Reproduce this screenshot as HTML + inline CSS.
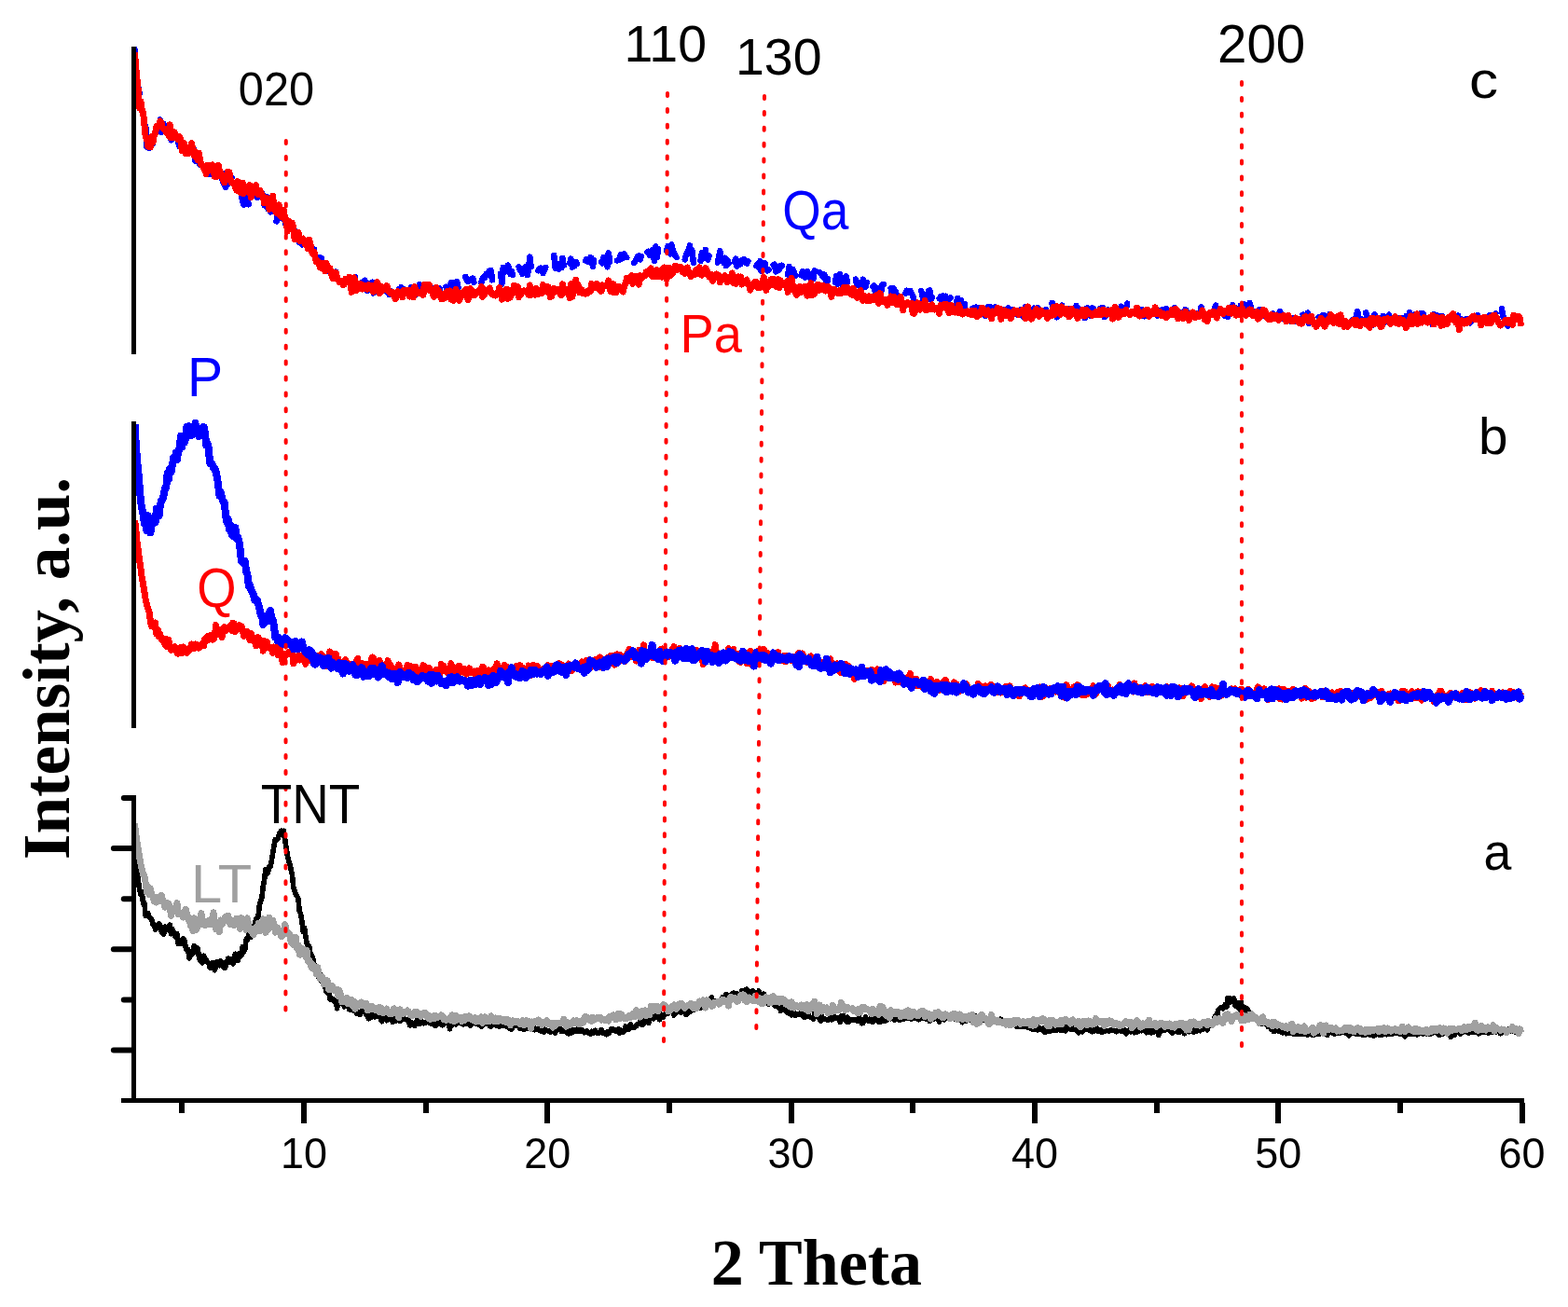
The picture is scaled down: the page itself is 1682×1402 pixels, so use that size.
<!DOCTYPE html>
<html lang="en">
<head>
<meta charset="utf-8">
<title>XRD patterns</title>
<style>
html,body{margin:0;padding:0;background:#fff;}
body{width:1682px;height:1402px;overflow:hidden;}
svg{display:block;}
.sans{font-family:"Liberation Sans",sans-serif;}
.serif{font-family:"Liberation Serif",serif;font-weight:bold;}
.crv{fill:none;stroke-linejoin:round;stroke-linecap:butt;}
.dash{fill:none;stroke-linejoin:round;stroke-linecap:round;}
</style>
</head>
<body>
<svg width="1682" height="1402" viewBox="0 0 1682 1402" role="img" aria-label="XRD patterns: intensity versus 2 theta">
<rect width="1682" height="1402" fill="#fff"/>

<!-- panel c -->
<g id="panel-c" shape-rendering="crispEdges">
<g class="dash" stroke="#0000ff" stroke-width="6.5">
<polyline points="144.5,52.9 145.8,72.2 147.1,85.5 148.4,93.6 149.7,100.5"/>
<polyline points="154.9,141.6 156.2,135.0 157.5,157.4 158.8,152.9 160.1,158.8 161.4,154.1 162.7,151.4 164.0,154.2"/>
<polyline points="171.8,128.5 173.1,141.9 174.4,138.7 175.7,133.1 177.0,138.9 178.3,141.1 179.6,138.1 180.9,137.1 182.2,145.3 183.5,150.3"/>
<polyline points="190.0,147.3 191.3,152.6 192.6,157.2 193.9,153.8 195.2,152.9 196.5,158.8 197.8,157.3 199.1,160.7"/>
<polyline points="206.9,164.6 208.2,159.9 209.5,172.7 210.8,172.4 212.1,173.2 213.4,173.1 214.7,176.9"/>
<polyline points="223.8,186.8 225.1,181.4 226.4,183.9 227.7,187.0 229.0,182.5 230.3,189.7 231.6,187.2"/>
<polyline points="238.1,191.0 239.4,195.4 240.7,198.6 242.0,200.8 243.3,185.1 244.6,197.5 245.9,196.1 247.2,193.8 248.5,190.9"/>
<polyline points="256.3,202.5 257.6,198.6 258.9,208.1 260.2,216.4 261.5,219.6 262.8,202.1 264.1,207.7 265.4,214.7 266.7,219.3"/>
<polyline points="275.8,211.9 277.1,210.9 278.4,208.8 279.7,209.5 281.0,206.7 282.3,211.7 283.6,220.3 284.9,215.5 286.2,211.2 287.5,223.9 288.8,220.3 290.1,227.4"/>
<polyline points="296.6,237.4 297.9,225.6 299.2,227.8 300.5,234.2 301.8,230.0 303.1,234.1 304.4,234.6 305.7,237.6 307.0,242.9 308.3,240.6"/>
<polyline points="316.1,254.1 317.4,248.4 318.7,253.1 320.0,254.2 321.3,260.1 322.6,260.6 323.9,262.3 325.2,258.7"/>
<polyline points="330.4,263.2 331.7,265.8 333.0,268.0 334.3,270.6 335.6,270.8 336.9,267.4 338.2,276.5 339.5,278.7 340.8,282.2 342.1,280.3 343.4,276.1 344.7,277.0"/>
<polyline points="351.2,286.4 352.5,291.3 353.8,291.9 355.1,293.5 356.4,295.6 357.7,296.2 359.0,296.9 360.3,291.5"/>
<polyline points="369.4,301.2 370.7,301.9 372.0,301.7 373.3,300.7 374.6,303.0 375.9,303.1 377.2,306.4 378.5,304.1 379.8,304.3 381.1,297.4"/>
<polyline points="387.6,303.2 388.9,305.4 390.2,302.1 391.5,300.9 392.8,303.1 394.1,311.7 395.4,308.3 396.7,304.3 398.0,307.9 399.3,302.7 400.6,314.4"/>
<polyline points="405.8,304.5 407.1,310.0 408.4,312.6 409.7,310.8 411.0,309.6 412.3,312.0 413.6,310.6 414.9,312.6 416.2,312.1 417.5,315.8 418.8,311.9"/>
<polyline points="425.3,318.5 426.6,315.9 427.9,310.0 429.2,312.6 430.5,308.2 431.8,309.4 433.1,310.5"/>
<polyline points="440.9,307.9 442.2,310.0 443.5,315.4 444.8,317.5 446.1,311.6 447.4,315.3 448.7,311.0 450.0,305.2 451.3,311.2 452.6,311.7 453.9,309.2"/>
<polyline points="460.4,310.2 461.7,310.1 463.0,309.2 464.3,313.0 465.6,315.4 466.9,308.7 468.2,311.7 469.5,311.0 470.8,309.2 472.1,310.2"/>
<polyline points="478.6,307.8 479.9,311.4 481.2,312.3 482.5,307.4 483.8,303.3 485.1,310.9 486.4,302.8 487.7,309.4 489.0,307.2 490.3,302.1 491.6,308.6"/>
<polyline points="499.4,297.0 500.7,300.1 502.0,301.8 503.3,300.2 504.6,299.7 505.9,301.1 507.2,298.6 508.5,302.9"/>
<polyline points="516.3,303.4 517.6,299.4 518.9,296.8 520.2,297.9 521.5,293.7 522.8,295.0 524.1,291.4 525.4,295.5 526.7,290.0 528.0,300.3"/>
<polyline points="537.1,293.7 538.4,304.7 539.7,287.0 541.0,292.0 542.3,289.2 543.6,291.1 544.9,284.7 546.2,288.1 547.5,294.1 548.8,290.9 550.1,294.7"/>
<polyline points="556.6,286.5 557.9,289.9 559.2,290.3 560.5,293.9 561.8,291.2 563.1,286.7 564.4,288.2 565.7,295.2 567.0,289.7 568.3,275.6 569.6,286.1"/>
<polyline points="577.4,290.3 578.7,288.1 580.0,287.7 581.3,289.4 582.6,293.0 583.9,290.1 585.2,286.8"/>
<polyline points="594.3,274.1 595.6,287.5 596.9,285.9 598.2,283.4 599.5,288.5 600.8,287.1 602.1,287.2 603.4,276.9 604.7,284.7"/>
<polyline points="611.2,282.4 612.5,277.6 613.8,286.5 615.1,283.1 616.4,285.2 617.7,281.1 619.0,283.0"/>
<polyline points="628.1,279.6 629.4,278.1 630.7,280.7 632.0,279.8 633.3,276.3 634.6,276.8 635.9,285.9 637.2,279.2"/>
<polyline points="645.0,281.0 646.3,282.4 647.6,275.8 648.9,278.7 650.2,280.6 651.5,286.4 652.8,271.2 654.1,280.9"/>
<polyline points="661.9,279.5 663.2,279.2 664.5,278.3 665.8,273.4 667.1,277.6 668.4,274.5 669.7,272.5 671.0,276.2 672.3,276.2"/>
<polyline points="680.1,281.9 681.4,280.3 682.7,277.5 684.0,275.2 685.3,274.5 686.6,278.4 687.9,275.1"/>
<polyline points="694.4,270.8 695.7,269.8 697.0,274.1 698.3,273.7 699.6,268.4 700.9,276.6 702.2,279.9 703.5,264.4 704.8,276.2 706.1,267.1"/>
<polyline points="715.2,269.1 716.5,263.9 717.8,267.8 719.1,272.3 720.4,262.4 721.7,268.3 723.0,271.2 724.3,274.6 725.6,276.0"/>
<polyline points="734.7,278.5 736.0,272.9 737.3,270.2 738.6,272.2 739.9,263.3 741.2,271.8 742.5,268.5 743.8,281.7"/>
<polyline points="751.6,279.8 752.9,271.4 754.2,276.7 755.5,276.6 756.8,268.0 758.1,277.3 759.4,278.5 760.7,274.6"/>
<polyline points="769.8,281.7 771.1,275.3 772.4,269.2 773.7,278.0 775.0,276.5 776.3,281.9 777.6,276.6 778.9,285.2 780.2,278.9 781.5,282.5"/>
<polyline points="788.0,280.9 789.3,277.6 790.6,285.7 791.9,283.6 793.2,280.0 794.5,283.2 795.8,279.1 797.1,278.7 798.4,278.3 799.7,281.9 801.0,282.6 802.3,280.0"/>
<polyline points="811.4,285.3 812.7,283.5 814.0,286.8 815.3,280.2 816.6,290.8 817.9,283.8 819.2,286.6 820.5,282.0 821.8,288.5 823.1,290.5 824.4,289.3"/>
<polyline points="829.6,284.1 830.9,283.5 832.2,291.4 833.5,287.7 834.8,286.7 836.1,289.3 837.4,284.8 838.7,284.7"/>
<polyline points="845.2,294.4 846.5,285.9 847.8,289.8 849.1,293.6 850.4,288.9 851.7,291.4 853.0,296.2"/>
<polyline points="859.5,295.3 860.8,290.9 862.1,293.9 863.4,297.6 864.7,291.9 866.0,291.4 867.3,294.3 868.6,297.9 869.9,299.2 871.2,298.5 872.5,298.9 873.8,290.4"/>
<polyline points="879.0,292.1 880.3,293.2 881.6,294.5 882.9,297.0 884.2,294.5 885.5,299.5 886.8,305.0 888.1,299.3"/>
<polyline points="895.9,302.6 897.2,295.9 898.5,304.7 899.8,302.7 901.1,293.9 902.4,303.2 903.7,306.2 905.0,299.1 906.3,305.8 907.6,296.3 908.9,302.8"/>
<polyline points="918.0,299.7 919.3,306.1 920.6,304.5 921.9,303.2 923.2,306.2 924.5,309.3 925.8,299.7 927.1,306.8 928.4,307.9 929.7,302.9"/>
<polyline points="936.2,307.5 937.5,306.6 938.8,312.5 940.1,308.7 941.4,309.7 942.7,314.5 944.0,314.1 945.3,312.7 946.6,305.2 947.9,305.0"/>
<polyline points="955.7,309.1 957.0,318.2 958.3,309.0 959.6,312.2 960.9,312.7 962.2,317.2"/>
<polyline points="971.3,314.7 972.6,311.8 973.9,313.9 975.2,312.5 976.5,311.9 977.8,315.0 979.1,316.8 980.4,322.9"/>
<polyline points="988.2,311.9 989.5,317.1 990.8,326.0 992.1,319.6 993.4,322.6 994.7,318.8 996.0,311.8 997.3,311.5 998.6,321.4 999.9,319.1"/>
<polyline points="1007.7,320.2 1009.0,318.3 1010.3,323.6 1011.6,317.3 1012.9,323.4 1014.2,317.7 1015.5,324.7 1016.8,323.0 1018.1,321.1 1019.4,319.6"/>
<polyline points="1025.9,325.3 1027.2,319.8 1028.5,329.3 1029.8,323.8 1031.1,321.9 1032.4,330.3 1033.7,331.6 1035.0,326.3"/>
<polyline points="1041.5,334.4 1042.8,331.1 1044.1,330.5 1045.4,330.9 1046.7,329.7 1048.0,333.0 1049.3,333.7 1050.6,330.1"/>
<polyline points="1057.1,339.2 1058.4,333.0 1059.7,329.3 1061.0,334.2 1062.3,329.5 1063.6,330.7 1064.9,332.8 1066.2,331.1 1067.5,329.3 1068.8,330.3"/>
<polyline points="1076.6,331.8 1077.9,338.9 1079.2,339.2 1080.5,334.7 1081.8,330.4 1083.1,335.7 1084.4,336.0 1085.7,335.9 1087.0,332.4"/>
<polyline points="1092.2,338.0 1093.5,334.4 1094.8,332.4 1096.1,333.1 1097.4,339.5 1098.7,337.1 1100.0,329.3 1101.3,334.9 1102.6,334.0"/>
<polyline points="1109.1,330.7 1110.4,332.2 1111.7,330.7 1113.0,330.2 1114.3,335.8 1115.6,336.5 1116.9,334.2 1118.2,333.3 1119.5,333.7 1120.8,336.3 1122.1,332.3"/>
<polyline points="1128.6,325.1 1129.9,336.2 1131.2,331.4 1132.5,334.1 1133.8,340.3 1135.1,335.6 1136.4,332.7 1137.7,329.8 1139.0,327.6"/>
<polyline points="1146.8,331.5 1148.1,335.8 1149.4,334.8 1150.7,337.0 1152.0,332.9 1153.3,331.6 1154.6,328.1 1155.9,329.7 1157.2,331.0"/>
<polyline points="1163.7,341.2 1165.0,331.4 1166.3,330.4 1167.6,338.1 1168.9,338.4 1170.2,331.8 1171.5,330.5 1172.8,331.0 1174.1,336.7"/>
<polyline points="1180.6,330.8 1181.9,333.2 1183.2,329.9 1184.5,340.1 1185.8,338.8 1187.1,336.0 1188.4,332.5"/>
<polyline points="1196.2,331.1 1197.5,332.4 1198.8,335.5 1200.1,335.8 1201.4,333.7 1202.7,328.8 1204.0,333.0 1205.3,331.6 1206.6,336.8 1207.9,331.2 1209.2,325.6"/>
<polyline points="1217.0,335.4 1218.3,335.5 1219.6,332.4 1220.9,333.8 1222.2,334.1 1223.5,332.2 1224.8,331.8 1226.1,336.5 1227.4,339.2 1228.7,337.6 1230.0,336.4"/>
<polyline points="1239.1,334.5 1240.4,337.1 1241.7,338.5 1243.0,333.7 1244.3,334.1 1245.6,334.6 1246.9,332.0 1248.2,339.3 1249.5,335.5 1250.8,331.1 1252.1,335.6"/>
<polyline points="1259.9,330.0 1261.2,334.9 1262.5,335.6 1263.8,338.1 1265.1,336.8 1266.4,335.4 1267.7,335.5 1269.0,335.3 1270.3,338.5 1271.6,332.1 1272.9,333.6"/>
<polyline points="1282.0,336.0 1283.3,337.3 1284.6,336.4 1285.9,335.5 1287.2,336.5 1288.5,329.3 1289.8,333.8"/>
<polyline points="1297.6,337.5 1298.9,334.9 1300.2,334.5 1301.5,338.1 1302.8,331.2 1304.1,327.6 1305.4,332.0 1306.7,331.8"/>
<polyline points="1313.2,338.5 1314.5,336.8 1315.8,335.0 1317.1,339.7 1318.4,332.0 1319.7,330.6 1321.0,332.5 1322.3,327.3 1323.6,332.1 1324.9,330.2"/>
<polyline points="1331.4,327.3 1332.7,333.2 1334.0,325.9 1335.3,331.6 1336.6,327.7 1337.9,330.1 1339.2,328.3 1340.5,324.9 1341.8,329.8 1343.1,334.3"/>
<polyline points="1350.9,332.4 1352.2,332.2 1353.5,337.1 1354.8,338.2 1356.1,338.6 1357.4,334.5 1358.7,337.2"/>
<polyline points="1365.2,336.4 1366.5,341.7 1367.8,339.8 1369.1,340.0 1370.4,340.8 1371.7,339.4 1373.0,333.9 1374.3,336.7 1375.6,341.3"/>
<polyline points="1383.4,344.3 1384.7,341.7 1386.0,344.9 1387.3,343.5 1388.6,340.9 1389.9,344.4 1391.2,341.8"/>
<polyline points="1397.7,337.6 1399.0,341.1 1400.3,338.1 1401.6,337.9 1402.9,335.6 1404.2,347.2 1405.5,340.7 1406.8,341.7 1408.1,344.0"/>
<polyline points="1414.6,340.3 1415.9,343.2 1417.2,342.4 1418.5,338.5 1419.8,337.9 1421.1,340.2 1422.4,344.2 1423.7,342.9 1425.0,343.3 1426.3,337.1"/>
<polyline points="1434.1,343.0 1435.4,340.7 1436.7,341.9 1438.0,345.0 1439.3,344.4 1440.6,343.2 1441.9,349.2"/>
<polyline points="1451.0,343.2 1452.3,345.0 1453.6,344.1 1454.9,338.4 1456.2,334.0 1457.5,349.1 1458.8,344.8 1460.1,342.1"/>
<polyline points="1465.3,335.4 1466.6,341.5 1467.9,344.6 1469.2,343.4 1470.5,345.9 1471.8,342.9 1473.1,348.3 1474.4,337.5"/>
<polyline points="1482.2,341.0 1483.5,338.9 1484.8,345.4 1486.1,345.3 1487.4,344.9 1488.7,339.4 1490.0,337.6"/>
<polyline points="1497.8,341.2 1499.1,340.8 1500.4,341.5 1501.7,341.7 1503.0,341.3 1504.3,343.1 1505.6,341.6 1506.9,342.0 1508.2,339.4 1509.5,342.1 1510.8,340.7 1512.1,335.0"/>
<polyline points="1517.3,337.6 1518.6,337.2 1519.9,338.9 1521.2,339.9 1522.5,339.9 1523.8,336.3 1525.1,346.1 1526.4,336.2 1527.7,340.0"/>
<polyline points="1535.5,341.0 1536.8,348.2 1538.1,337.3 1539.4,340.6 1540.7,338.8 1542.0,338.5 1543.3,341.3 1544.6,345.1 1545.9,339.3 1547.2,339.2 1548.5,342.3"/>
<polyline points="1557.6,340.4 1558.9,338.4 1560.2,342.7 1561.5,341.4 1562.8,340.0 1564.1,338.5 1565.4,344.4 1566.7,342.0"/>
<polyline points="1573.2,341.8 1574.5,341.9 1575.8,343.4 1577.1,346.3 1578.4,343.4 1579.7,339.1 1581.0,340.6 1582.3,340.1 1583.6,342.2 1584.9,338.0 1586.2,340.7 1587.5,343.2"/>
<polyline points="1592.7,341.1 1594.0,342.3 1595.3,343.2 1596.6,340.7 1597.9,338.2 1599.2,346.0 1600.5,342.0 1601.8,341.1 1603.1,340.2 1604.4,336.4"/>
<polyline points="1610.9,330.9 1612.2,339.2 1613.5,341.5 1614.8,345.2 1616.1,344.6 1617.4,349.7 1618.7,346.5 1620.0,346.9 1621.3,346.9 1622.6,340.6"/>
</g>
<polyline class="crv" stroke="#ff0000" stroke-width="7" points="144.5,56.2 145.8,73.2 147.1,86.0 148.4,98.2 149.7,115.6 151.0,108.8 152.3,118.9 153.6,121.2 154.9,133.8 156.2,146.8 157.5,148.5 158.8,157.1 160.1,148.5 161.4,158.0 162.7,146.6 164.0,153.0 165.3,144.6 166.6,143.2 167.9,135.5 169.2,136.1 170.5,134.6 171.8,129.8 173.1,131.6 174.4,137.2 175.7,137.7 177.0,139.6 178.3,141.5 179.6,138.5 180.9,145.6 182.2,133.8 183.5,147.8 184.8,143.2 186.1,145.7 187.4,141.9 188.7,147.6 190.0,147.2 191.3,149.9 192.6,146.7 193.9,150.8 195.2,161.4 196.5,156.3 197.8,153.9 199.1,164.6 200.4,161.2 201.7,164.6 203.0,164.1 204.3,159.8 205.6,153.7 206.9,162.5 208.2,167.2 209.5,162.7 210.8,167.7 212.1,171.4 213.4,164.2 214.7,173.1 216.0,177.1 217.3,178.0 218.6,180.8 219.9,181.0 221.2,186.6 222.5,177.3 223.8,178.0 225.1,182.9 226.4,177.8 227.7,176.9 229.0,182.4 230.3,189.5 231.6,189.8 232.9,179.5 234.2,177.2 235.5,184.3 236.8,185.6 238.1,187.8 239.4,192.6 240.7,195.7 242.0,190.9 243.3,192.5 244.6,184.1 245.9,184.5 247.2,192.9 248.5,195.9 249.8,196.3 251.1,196.8 252.4,200.5 253.7,204.0 255.0,194.7 256.3,200.7 257.6,206.4 258.9,206.6 260.2,196.1 261.5,207.5 262.8,199.7 264.1,200.4 265.4,202.7 266.7,206.2 268.0,198.7 269.3,211.5 270.6,207.5 271.9,203.3 273.2,206.1 274.5,198.6 275.8,205.7 277.1,208.6 278.4,204.1 279.7,206.1 281.0,208.4 282.3,211.7 283.6,217.9 284.9,213.8 286.2,212.7 287.5,216.5 288.8,224.3 290.1,214.6 291.4,219.0 292.7,210.2 294.0,224.6 295.3,223.8 296.6,228.3 297.9,222.9 299.2,220.0 300.5,230.9 301.8,232.6 303.1,226.8 304.4,225.5 305.7,235.7 307.0,235.0 308.3,248.3 309.6,237.2 310.9,240.3 312.2,244.0 313.5,239.1 314.8,244.2 316.1,256.8 317.4,251.9 318.7,251.4 320.0,249.4 321.3,257.6 322.6,258.8 323.9,257.9 325.2,256.1 326.5,260.2 327.8,262.5 329.1,260.4 330.4,266.6 331.7,257.3 333.0,262.7 334.3,269.1 335.6,272.3 336.9,270.1 338.2,277.0 339.5,280.9 340.8,280.3 342.1,281.9 343.4,286.9 344.7,287.4 346.0,282.3 347.3,285.4 348.6,290.8 349.9,282.2 351.2,286.9 352.5,286.7 353.8,287.7 355.1,290.9 356.4,297.4 357.7,298.9 359.0,298.5 360.3,292.5 361.6,297.5 362.9,300.5 364.2,302.6 365.5,301.7 366.8,303.3 368.1,305.4 369.4,305.1 370.7,299.4 372.0,302.7 373.3,301.3 374.6,297.2 375.9,300.5 377.2,313.4 378.5,302.2 379.8,297.9 381.1,303.7 382.4,311.4 383.7,306.4 385.0,307.3 386.3,304.5 387.6,305.1 388.9,310.0 390.2,308.9 391.5,306.3 392.8,309.7 394.1,310.1 395.4,305.6 396.7,307.7 398.0,308.7 399.3,306.8 400.6,313.0 401.9,307.7 403.2,305.6 404.5,302.8 405.8,305.0 407.1,314.7 408.4,306.9 409.7,312.4 411.0,309.0 412.3,311.0 413.6,310.8 414.9,306.7 416.2,310.0 417.5,313.4 418.8,314.5 420.1,314.1 421.4,313.4 422.7,317.4 424.0,320.7 425.3,318.1 426.6,312.8 427.9,315.4 429.2,314.0 430.5,315.0 431.8,318.7 433.1,311.5 434.4,313.0 435.7,311.4 437.0,313.4 438.3,311.8 439.6,318.0 440.9,313.5 442.2,310.9 443.5,318.9 444.8,307.5 446.1,313.7 447.4,314.5 448.7,314.7 450.0,313.7 451.3,314.7 452.6,313.6 453.9,316.4 455.2,305.1 456.5,309.5 457.8,310.7 459.1,308.6 460.4,305.6 461.7,311.7 463.0,310.7 464.3,316.1 465.6,318.4 466.9,314.5 468.2,308.5 469.5,314.5 470.8,312.4 472.1,317.6 473.4,320.5 474.7,315.4 476.0,320.4 477.3,318.8 478.6,316.7 479.9,312.3 481.2,316.2 482.5,312.0 483.8,321.0 485.1,318.8 486.4,322.3 487.7,317.9 489.0,310.4 490.3,318.9 491.6,319.8 492.9,322.2 494.2,314.2 495.5,314.3 496.8,316.6 498.1,312.4 499.4,310.7 500.7,310.6 502.0,321.6 503.3,311.0 504.6,309.9 505.9,311.7 507.2,312.9 508.5,316.9 509.8,315.6 511.1,314.9 512.4,312.7 513.7,313.7 515.0,311.1 516.3,307.5 517.6,318.3 518.9,310.4 520.2,315.4 521.5,311.2 522.8,312.1 524.1,312.2 525.4,309.0 526.7,314.0 528.0,315.5 529.3,316.5 530.6,315.2 531.9,316.9 533.2,314.6 534.5,314.0 535.8,308.5 537.1,314.2 538.4,321.2 539.7,315.6 541.0,315.8 542.3,311.1 543.6,310.3 544.9,320.5 546.2,315.4 547.5,318.8 548.8,315.5 550.1,312.7 551.4,306.2 552.7,313.9 554.0,309.2 555.3,307.7 556.6,318.6 557.9,316.1 559.2,315.2 560.5,312.7 561.8,311.8 563.1,312.8 564.4,312.3 565.7,313.1 567.0,316.2 568.3,306.0 569.6,316.4 570.9,311.0 572.2,315.5 573.5,316.1 574.8,309.4 576.1,314.8 577.4,315.2 578.7,311.3 580.0,312.7 581.3,314.5 582.6,305.5 583.9,310.2 585.2,312.1 586.5,310.6 587.8,307.7 589.1,312.5 590.4,318.7 591.7,317.5 593.0,312.0 594.3,309.2 595.6,311.9 596.9,312.5 598.2,310.4 599.5,311.6 600.8,315.3 602.1,316.5 603.4,304.7 604.7,314.3 606.0,310.3 607.3,313.4 608.6,310.8 609.9,314.2 611.2,319.5 612.5,304.7 613.8,318.5 615.1,312.2 616.4,304.0 617.7,300.3 619.0,309.9 620.3,306.1 621.6,313.6 622.9,311.8 624.2,310.9 625.5,314.9 626.8,313.1 628.1,315.2 629.4,314.8 630.7,312.2 632.0,313.2 633.3,312.3 634.6,304.4 635.9,307.9 637.2,308.4 638.5,307.7 639.8,304.3 641.1,308.0 642.4,310.2 643.7,308.6 645.0,312.4 646.3,305.8 647.6,306.9 648.9,306.4 650.2,306.6 651.5,305.0 652.8,301.0 654.1,309.7 655.4,312.9 656.7,313.1 658.0,304.7 659.3,307.1 660.6,313.8 661.9,307.5 663.2,309.2 664.5,307.4 665.8,310.3 667.1,309.1 668.4,313.0 669.7,306.2 671.0,305.0 672.3,298.5 673.6,300.8 674.9,299.3 676.2,299.7 677.5,295.7 678.8,304.2 680.1,296.9 681.4,301.8 682.7,296.4 684.0,301.4 685.3,305.2 686.6,295.6 687.9,298.6 689.2,296.2 690.5,296.4 691.8,296.0 693.1,291.8 694.4,293.3 695.7,291.5 697.0,289.8 698.3,287.8 699.6,296.3 700.9,291.6 702.2,296.8 703.5,295.7 704.8,289.6 706.1,296.9 707.4,290.6 708.7,295.6 710.0,297.2 711.3,288.1 712.6,286.9 713.9,287.4 715.2,299.1 716.5,289.9 717.8,287.5 719.1,295.6 720.4,292.4 721.7,293.2 723.0,289.8 724.3,285.1 725.6,289.8 726.9,288.5 728.2,286.5 729.5,288.0 730.8,286.8 732.1,291.9 733.4,292.4 734.7,293.4 736.0,290.3 737.3,287.0 738.6,292.1 739.9,293.6 741.2,296.7 742.5,293.5 743.8,293.2 745.1,294.5 746.4,289.4 747.7,288.9 749.0,293.5 750.3,286.8 751.6,291.4 752.9,295.1 754.2,293.6 755.5,293.8 756.8,287.5 758.1,291.0 759.4,292.2 760.7,297.0 762.0,296.4 763.3,294.4 764.6,301.2 765.9,297.1 767.2,294.7 768.5,294.0 769.8,296.6 771.1,295.1 772.4,302.9 773.7,299.6 775.0,297.3 776.3,296.8 777.6,295.8 778.9,298.2 780.2,302.7 781.5,300.6 782.8,297.4 784.1,298.5 785.4,293.0 786.7,303.3 788.0,299.9 789.3,304.4 790.6,298.2 791.9,296.9 793.2,299.3 794.5,297.0 795.8,305.0 797.1,302.0 798.4,301.6 799.7,301.1 801.0,300.1 802.3,304.7 803.6,304.9 804.9,311.1 806.2,306.0 807.5,307.1 808.8,303.4 810.1,302.5 811.4,302.5 812.7,308.6 814.0,305.3 815.3,308.7 816.6,304.1 817.9,302.7 819.2,297.3 820.5,307.1 821.8,311.3 823.1,302.8 824.4,307.5 825.7,305.1 827.0,300.0 828.3,305.1 829.6,299.4 830.9,301.5 832.2,307.2 833.5,304.0 834.8,299.5 836.1,308.7 837.4,301.2 838.7,305.1 840.0,304.8 841.3,305.8 842.6,304.1 843.9,302.0 845.2,313.3 846.5,303.4 847.8,303.3 849.1,298.2 850.4,306.7 851.7,311.1 853.0,311.9 854.3,316.3 855.6,311.6 856.9,307.9 858.2,307.3 859.5,313.3 860.8,309.8 862.1,310.9 863.4,307.1 864.7,310.8 866.0,317.1 867.3,310.5 868.6,312.3 869.9,303.6 871.2,316.4 872.5,313.1 873.8,315.2 875.1,310.1 876.4,306.4 877.7,305.2 879.0,311.3 880.3,309.3 881.6,306.1 882.9,308.8 884.2,306.9 885.5,312.0 886.8,309.3 888.1,307.2 889.4,311.4 890.7,310.6 892.0,318.2 893.3,312.7 894.6,310.2 895.9,313.9 897.2,312.9 898.5,314.6 899.8,314.7 901.1,311.1 902.4,314.5 903.7,313.5 905.0,308.6 906.3,310.2 907.6,313.3 908.9,308.2 910.2,310.8 911.5,313.9 912.8,315.4 914.1,316.3 915.4,309.4 916.7,314.6 918.0,316.0 919.3,319.3 920.6,313.5 921.9,312.6 923.2,311.7 924.5,319.3 925.8,322.5 927.1,317.1 928.4,321.2 929.7,322.4 931.0,322.1 932.3,317.9 933.6,322.2 934.9,321.3 936.2,318.6 937.5,321.4 938.8,321.0 940.1,316.7 941.4,320.9 942.7,325.4 944.0,314.6 945.3,322.2 946.6,323.7 947.9,321.5 949.2,322.8 950.5,321.7 951.8,327.5 953.1,321.2 954.4,323.8 955.7,318.0 957.0,324.4 958.3,324.4 959.6,318.7 960.9,322.0 962.2,326.5 963.5,323.4 964.8,321.5 966.1,318.2 967.4,327.6 968.7,332.9 970.0,325.3 971.3,327.2 972.6,326.4 973.9,324.8 975.2,326.0 976.5,327.2 977.8,325.2 979.1,335.8 980.4,336.4 981.7,328.7 983.0,332.6 984.3,324.8 985.6,327.2 986.9,332.1 988.2,326.2 989.5,326.5 990.8,330.9 992.1,322.5 993.4,332.8 994.7,330.4 996.0,329.8 997.3,331.7 998.6,327.3 999.9,326.9 1001.2,331.7 1002.5,332.1 1003.8,330.6 1005.1,331.0 1006.4,330.3 1007.7,336.4 1009.0,327.4 1010.3,328.5 1011.6,329.1 1012.9,326.1 1014.2,326.2 1015.5,326.7 1016.8,332.8 1018.1,335.5 1019.4,331.8 1020.7,327.4 1022.0,332.0 1023.3,334.9 1024.6,335.1 1025.9,334.1 1027.2,335.2 1028.5,327.1 1029.8,331.7 1031.1,335.0 1032.4,336.9 1033.7,335.5 1035.0,334.5 1036.3,334.5 1037.6,333.9 1038.9,336.7 1040.2,335.8 1041.5,333.6 1042.8,337.8 1044.1,337.0 1045.4,333.1 1046.7,337.1 1048.0,339.5 1049.3,337.1 1050.6,336.6 1051.9,337.1 1053.2,330.3 1054.5,330.4 1055.8,335.4 1057.1,334.3 1058.4,337.7 1059.7,332.9 1061.0,338.0 1062.3,338.5 1063.6,341.7 1064.9,334.0 1066.2,334.9 1067.5,335.8 1068.8,334.5 1070.1,330.2 1071.4,332.2 1072.7,331.3 1074.0,342.3 1075.3,334.9 1076.6,334.5 1077.9,333.1 1079.2,335.9 1080.5,338.5 1081.8,334.8 1083.1,335.2 1084.4,341.5 1085.7,337.8 1087.0,335.3 1088.3,332.9 1089.6,334.5 1090.9,333.4 1092.2,337.3 1093.5,335.2 1094.8,334.9 1096.1,334.9 1097.4,332.4 1098.7,335.7 1100.0,341.5 1101.3,331.7 1102.6,329.1 1103.9,337.8 1105.2,335.8 1106.5,342.1 1107.8,337.1 1109.1,338.5 1110.4,333.9 1111.7,331.9 1113.0,336.4 1114.3,339.3 1115.6,335.0 1116.9,333.1 1118.2,336.4 1119.5,336.9 1120.8,336.1 1122.1,335.4 1123.4,341.4 1124.7,335.6 1126.0,336.0 1127.3,334.7 1128.6,338.6 1129.9,329.8 1131.2,337.4 1132.5,332.9 1133.8,328.7 1135.1,333.9 1136.4,333.5 1137.7,337.4 1139.0,329.0 1140.3,333.5 1141.6,333.2 1142.9,336.6 1144.2,331.3 1145.5,332.3 1146.8,339.9 1148.1,336.1 1149.4,331.1 1150.7,337.0 1152.0,334.3 1153.3,335.1 1154.6,334.5 1155.9,341.5 1157.2,337.1 1158.5,338.9 1159.8,337.9 1161.1,332.5 1162.4,334.4 1163.7,339.1 1165.0,332.5 1166.3,336.9 1167.6,334.9 1168.9,336.9 1170.2,337.4 1171.5,338.3 1172.8,336.7 1174.1,337.6 1175.4,334.8 1176.7,334.6 1178.0,337.7 1179.3,332.8 1180.6,337.5 1181.9,337.4 1183.2,332.1 1184.5,336.6 1185.8,333.4 1187.1,337.1 1188.4,333.6 1189.7,336.4 1191.0,336.0 1192.3,333.0 1193.6,342.1 1194.9,338.0 1196.2,329.5 1197.5,334.7 1198.8,332.7 1200.1,340.2 1201.4,334.5 1202.7,336.1 1204.0,334.6 1205.3,336.9 1206.6,333.3 1207.9,332.7 1209.2,334.7 1210.5,335.1 1211.8,337.6 1213.1,335.5 1214.4,334.2 1215.7,334.8 1217.0,333.9 1218.3,336.9 1219.6,330.2 1220.9,335.0 1222.2,339.0 1223.5,335.2 1224.8,335.4 1226.1,337.6 1227.4,333.6 1228.7,332.9 1230.0,336.7 1231.3,332.7 1232.6,339.4 1233.9,335.3 1235.2,334.7 1236.5,334.8 1237.8,336.5 1239.1,329.9 1240.4,335.6 1241.7,336.9 1243.0,336.3 1244.3,334.3 1245.6,338.3 1246.9,338.7 1248.2,336.4 1249.5,338.0 1250.8,340.5 1252.1,339.0 1253.4,336.3 1254.7,337.0 1256.0,337.2 1257.3,332.3 1258.6,337.5 1259.9,337.0 1261.2,331.5 1262.5,332.5 1263.8,341.7 1265.1,336.2 1266.4,340.1 1267.7,336.0 1269.0,341.7 1270.3,338.5 1271.6,334.3 1272.9,336.8 1274.2,340.8 1275.5,343.7 1276.8,338.7 1278.1,336.0 1279.4,335.0 1280.7,339.6 1282.0,340.9 1283.3,338.0 1284.6,337.1 1285.9,339.8 1287.2,339.0 1288.5,338.9 1289.8,333.0 1291.1,336.2 1292.4,342.9 1293.7,337.8 1295.0,344.5 1296.3,338.0 1297.6,335.5 1298.9,336.7 1300.2,337.5 1301.5,334.1 1302.8,337.6 1304.1,336.0 1305.4,341.0 1306.7,334.7 1308.0,335.7 1309.3,331.3 1310.6,332.7 1311.9,336.7 1313.2,333.2 1314.5,333.3 1315.8,334.0 1317.1,335.3 1318.4,330.1 1319.7,333.7 1321.0,336.1 1322.3,332.1 1323.6,330.1 1324.9,331.6 1326.2,338.2 1327.5,333.4 1328.8,337.7 1330.1,332.4 1331.4,337.6 1332.7,330.7 1334.0,334.0 1335.3,334.1 1336.6,338.3 1337.9,334.4 1339.2,336.2 1340.5,331.9 1341.8,332.2 1343.1,337.5 1344.4,338.8 1345.7,338.9 1347.0,339.1 1348.3,334.4 1349.6,342.2 1350.9,336.4 1352.2,339.4 1353.5,338.5 1354.8,332.6 1356.1,333.0 1357.4,334.3 1358.7,338.7 1360.0,342.0 1361.3,338.7 1362.6,342.8 1363.9,337.7 1365.2,339.7 1366.5,338.9 1367.8,341.4 1369.1,338.1 1370.4,341.3 1371.7,343.4 1373.0,340.4 1374.3,339.3 1375.6,340.7 1376.9,338.4 1378.2,339.0 1379.5,344.8 1380.8,344.0 1382.1,338.6 1383.4,341.2 1384.7,343.3 1386.0,344.5 1387.3,343.7 1388.6,344.0 1389.9,341.1 1391.2,342.0 1392.5,342.3 1393.8,346.5 1395.1,345.4 1396.4,347.1 1397.7,345.0 1399.0,340.5 1400.3,339.7 1401.6,340.1 1402.9,340.7 1404.2,344.5 1405.5,339.7 1406.8,339.2 1408.1,344.8 1409.4,347.6 1410.7,347.6 1412.0,350.3 1413.3,346.0 1414.6,344.5 1415.9,344.5 1417.2,341.4 1418.5,343.6 1419.8,348.7 1421.1,350.2 1422.4,347.4 1423.7,344.5 1425.0,342.6 1426.3,343.4 1427.6,337.6 1428.9,345.0 1430.2,346.2 1431.5,344.0 1432.8,344.6 1434.1,339.8 1435.4,346.8 1436.7,347.3 1438.0,337.9 1439.3,343.8 1440.6,346.3 1441.9,350.5 1443.2,344.2 1444.5,346.5 1445.8,350.3 1447.1,347.4 1448.4,345.5 1449.7,344.8 1451.0,345.8 1452.3,343.4 1453.6,348.4 1454.9,343.5 1456.2,347.8 1457.5,348.9 1458.8,349.4 1460.1,345.6 1461.4,344.3 1462.7,344.8 1464.0,344.5 1465.3,347.7 1466.6,344.4 1467.9,349.5 1469.2,351.3 1470.5,341.6 1471.8,345.0 1473.1,341.6 1474.4,347.6 1475.7,346.9 1477.0,344.6 1478.3,341.4 1479.6,344.2 1480.9,350.5 1482.2,350.1 1483.5,346.5 1484.8,342.7 1486.1,344.1 1487.4,342.5 1488.7,341.5 1490.0,342.9 1491.3,347.3 1492.6,346.0 1493.9,344.8 1495.2,340.8 1496.5,339.7 1497.8,346.5 1499.1,343.0 1500.4,347.4 1501.7,341.8 1503.0,346.2 1504.3,344.6 1505.6,343.8 1506.9,344.9 1508.2,351.8 1509.5,349.1 1510.8,345.2 1512.1,345.0 1513.4,338.9 1514.7,347.5 1516.0,347.1 1517.3,342.8 1518.6,345.7 1519.9,336.9 1521.2,347.3 1522.5,345.8 1523.8,344.8 1525.1,345.9 1526.4,344.2 1527.7,340.6 1529.0,341.5 1530.3,343.1 1531.6,346.0 1532.9,343.0 1534.2,340.2 1535.5,342.6 1536.8,338.3 1538.1,348.0 1539.4,343.5 1540.7,340.3 1542.0,343.6 1543.3,346.2 1544.6,344.9 1545.9,349.5 1547.2,340.4 1548.5,348.6 1549.8,343.3 1551.1,345.1 1552.4,347.7 1553.7,340.2 1555.0,339.8 1556.3,342.5 1557.6,338.4 1558.9,336.7 1560.2,342.5 1561.5,345.8 1562.8,341.2 1564.1,344.0 1565.4,353.6 1566.7,345.2 1568.0,343.9 1569.3,344.7 1570.6,346.9 1571.9,344.7 1573.2,346.3 1574.5,343.8 1575.8,345.0 1577.1,342.5 1578.4,341.7 1579.7,339.7 1581.0,339.1 1582.3,342.4 1583.6,341.3 1584.9,342.2 1586.2,341.4 1587.5,341.2 1588.8,348.8 1590.1,343.3 1591.4,345.9 1592.7,340.1 1594.0,346.1 1595.3,346.5 1596.6,344.5 1597.9,340.9 1599.2,346.7 1600.5,341.0 1601.8,338.5 1603.1,338.1 1604.4,342.7 1605.7,341.4 1607.0,345.8 1608.3,346.3 1609.6,349.0 1610.9,347.0 1612.2,346.8 1613.5,346.2 1614.8,343.5 1616.1,343.4 1617.4,344.0 1618.7,346.8 1620.0,343.5 1621.3,345.2 1622.6,348.2 1623.9,338.2 1625.2,341.4 1626.5,340.1 1627.8,342.6 1629.1,339.3 1630.4,342.0 1631.7,349.9"/>
</g>

<!-- panel b -->
<g id="panel-b" shape-rendering="crispEdges">
<polyline class="crv" stroke="#ff0000" stroke-width="7" points="144.5,558.0 145.8,567.2 147.1,582.3 148.4,591.5 149.7,601.7 151.0,610.0 152.3,620.0 153.6,626.8 154.9,634.7 156.2,643.1 157.5,648.5 158.8,652.8 160.1,656.8 161.4,666.6 162.7,671.8 164.0,671.2 165.3,673.1 166.6,668.0 167.9,680.0 169.2,675.1 170.5,682.6 171.8,680.4 173.1,686.1 174.4,686.4 175.7,685.1 177.0,691.6 178.3,685.4 179.6,693.9 180.9,686.3 182.2,693.7 183.5,697.4 184.8,695.7 186.1,694.5 187.4,693.8 188.7,696.0 190.0,701.0 191.3,701.1 192.6,697.6 193.9,694.4 195.2,700.5 196.5,694.0 197.8,697.0 199.1,696.1 200.4,700.2 201.7,697.8 203.0,697.5 204.3,695.5 205.6,690.9 206.9,693.6 208.2,695.8 209.5,691.0 210.8,693.8 212.1,692.0 213.4,695.1 214.7,692.7 216.0,692.5 217.3,689.7 218.6,692.7 219.9,685.1 221.2,684.4 222.5,682.9 223.8,686.2 225.1,681.8 226.4,682.0 227.7,686.2 229.0,686.0 230.3,682.2 231.6,670.5 232.9,676.3 234.2,675.8 235.5,675.3 236.8,677.6 238.1,683.7 239.4,674.9 240.7,672.5 242.0,676.9 243.3,674.5 244.6,674.6 245.9,672.1 247.2,674.8 248.5,676.5 249.8,668.1 251.1,668.8 252.4,677.7 253.7,676.3 255.0,671.6 256.3,670.5 257.6,674.4 258.9,671.8 260.2,675.3 261.5,682.4 262.8,677.6 264.1,681.5 265.4,677.7 266.7,681.3 268.0,686.8 269.3,679.5 270.6,684.0 271.9,685.3 273.2,687.6 274.5,692.9 275.8,690.8 277.1,683.7 278.4,688.3 279.7,687.8 281.0,688.9 282.3,698.3 283.6,687.5 284.9,691.3 286.2,688.4 287.5,694.4 288.8,694.4 290.1,695.6 291.4,696.2 292.7,700.4 294.0,694.0 295.3,695.0 296.6,694.1 297.9,702.3 299.2,698.0 300.5,696.9 301.8,700.5 303.1,710.5 304.4,701.7 305.7,703.6 307.0,701.9 308.3,700.9 309.6,699.8 310.9,701.6 312.2,701.8 313.5,696.3 314.8,711.9 316.1,707.5 317.4,705.6 318.7,704.9 320.0,703.0 321.3,708.0 322.6,704.5 323.9,707.1 325.2,701.9 326.5,707.5 327.8,712.3 329.1,704.7 330.4,707.7 331.7,705.5 333.0,709.0 334.3,709.1 335.6,705.9 336.9,703.3 338.2,705.4 339.5,705.0 340.8,703.6 342.1,707.2 343.4,706.7 344.7,701.7 346.0,703.3 347.3,712.8 348.6,707.7 349.9,706.9 351.2,714.7 352.5,705.2 353.8,699.0 355.1,701.1 356.4,702.4 357.7,708.1 359.0,710.6 360.3,701.5 361.6,712.4 362.9,706.7 364.2,712.6 365.5,713.9 366.8,713.5 368.1,711.8 369.4,712.2 370.7,707.7 372.0,710.9 373.3,712.2 374.6,711.9 375.9,717.6 377.2,714.4 378.5,714.3 379.8,717.2 381.1,712.8 382.4,708.7 383.7,706.3 385.0,716.7 386.3,714.0 387.6,714.6 388.9,711.7 390.2,714.8 391.5,720.6 392.8,716.9 394.1,712.4 395.4,712.8 396.7,716.7 398.0,709.1 399.3,705.0 400.6,705.8 401.9,708.9 403.2,716.2 404.5,714.4 405.8,711.0 407.1,708.6 408.4,712.7 409.7,713.7 411.0,713.1 412.3,714.2 413.6,712.7 414.9,720.6 416.2,708.7 417.5,716.4 418.8,713.2 420.1,718.6 421.4,716.3 422.7,718.1 424.0,718.1 425.3,716.8 426.6,719.1 427.9,713.0 429.2,721.1 430.5,718.6 431.8,720.7 433.1,724.1 434.4,722.8 435.7,725.6 437.0,713.4 438.3,716.3 439.6,720.9 440.9,714.7 442.2,717.7 443.5,723.3 444.8,720.8 446.1,715.5 447.4,719.8 448.7,720.6 450.0,718.6 451.3,717.5 452.6,718.0 453.9,713.7 455.2,718.8 456.5,715.7 457.8,719.9 459.1,720.5 460.4,716.8 461.7,721.1 463.0,720.6 464.3,720.2 465.6,722.7 466.9,719.2 468.2,718.5 469.5,719.1 470.8,718.6 472.1,722.3 473.4,712.6 474.7,719.1 476.0,714.1 477.3,718.1 478.6,720.5 479.9,720.3 481.2,723.2 482.5,721.1 483.8,711.8 485.1,716.3 486.4,724.5 487.7,725.4 489.0,721.2 490.3,715.9 491.6,726.4 492.9,714.2 494.2,720.8 495.5,719.6 496.8,721.0 498.1,717.2 499.4,719.0 500.7,723.0 502.0,718.9 503.3,716.8 504.6,721.0 505.9,721.6 507.2,721.5 508.5,720.1 509.8,724.2 511.1,722.5 512.4,719.5 513.7,723.3 515.0,722.2 516.3,722.0 517.6,715.3 518.9,716.8 520.2,720.3 521.5,722.0 522.8,720.1 524.1,719.0 525.4,720.4 526.7,721.8 528.0,724.7 529.3,720.6 530.6,716.6 531.9,718.8 533.2,711.9 534.5,718.5 535.8,717.9 537.1,719.6 538.4,720.8 539.7,718.6 541.0,713.2 542.3,716.2 543.6,715.5 544.9,718.7 546.2,720.1 547.5,715.9 548.8,720.3 550.1,721.7 551.4,717.4 552.7,720.9 554.0,714.6 555.3,717.0 556.6,721.4 557.9,713.7 559.2,717.2 560.5,716.1 561.8,722.9 563.1,724.5 564.4,720.3 565.7,722.4 567.0,714.0 568.3,723.2 569.6,721.2 570.9,723.9 572.2,713.3 573.5,721.3 574.8,719.9 576.1,714.1 577.4,719.7 578.7,720.8 580.0,722.2 581.3,719.6 582.6,717.6 583.9,720.8 585.2,718.9 586.5,716.1 587.8,713.6 589.1,715.9 590.4,715.5 591.7,720.6 593.0,714.3 594.3,720.5 595.6,717.0 596.9,719.4 598.2,712.8 599.5,711.6 600.8,712.0 602.1,715.2 603.4,713.6 604.7,715.9 606.0,714.8 607.3,716.8 608.6,714.3 609.9,712.1 611.2,715.2 612.5,714.1 613.8,719.3 615.1,713.4 616.4,713.5 617.7,711.9 619.0,716.5 620.3,716.3 621.6,716.5 622.9,711.2 624.2,710.0 625.5,714.6 626.8,715.6 628.1,718.0 629.4,708.3 630.7,712.9 632.0,707.8 633.3,709.6 634.6,711.6 635.9,715.0 637.2,709.8 638.5,707.8 639.8,707.6 641.1,711.8 642.4,715.9 643.7,705.0 645.0,709.2 646.3,708.5 647.6,713.6 648.9,711.7 650.2,714.7 651.5,705.7 652.8,707.4 654.1,705.3 655.4,703.3 656.7,706.3 658.0,703.1 659.3,713.2 660.6,707.3 661.9,701.9 663.2,702.5 664.5,709.5 665.8,702.8 667.1,706.9 668.4,707.6 669.7,709.6 671.0,707.1 672.3,702.6 673.6,700.0 674.9,696.5 676.2,703.1 677.5,704.7 678.8,703.6 680.1,704.0 681.4,699.7 682.7,709.1 684.0,699.9 685.3,697.6 686.6,698.6 687.9,699.5 689.2,701.7 690.5,691.9 691.8,702.3 693.1,700.2 694.4,702.1 695.7,705.5 697.0,703.6 698.3,698.3 699.6,699.8 700.9,705.9 702.2,704.5 703.5,702.9 704.8,699.4 706.1,701.2 707.4,698.9 708.7,696.4 710.0,696.0 711.3,701.9 712.6,702.1 713.9,704.5 715.2,698.7 716.5,704.8 717.8,699.5 719.1,703.9 720.4,700.2 721.7,695.4 723.0,693.8 724.3,696.7 725.6,697.1 726.9,701.7 728.2,697.4 729.5,695.4 730.8,699.9 732.1,705.8 733.4,705.0 734.7,697.7 736.0,698.0 737.3,699.5 738.6,697.1 739.9,699.7 741.2,700.0 742.5,697.2 743.8,698.4 745.1,699.3 746.4,702.0 747.7,697.8 749.0,701.8 750.3,698.1 751.6,698.5 752.9,697.4 754.2,712.7 755.5,703.1 756.8,703.0 758.1,701.7 759.4,698.8 760.7,699.5 762.0,699.9 763.3,700.8 764.6,701.8 765.9,705.0 767.2,691.6 768.5,700.0 769.8,704.7 771.1,701.9 772.4,702.3 773.7,706.4 775.0,701.2 776.3,706.3 777.6,701.7 778.9,703.5 780.2,699.4 781.5,695.8 782.8,700.0 784.1,700.9 785.4,699.2 786.7,696.4 788.0,703.7 789.3,703.2 790.6,703.7 791.9,701.5 793.2,709.7 794.5,710.2 795.8,707.0 797.1,705.2 798.4,705.6 799.7,709.1 801.0,711.6 802.3,702.6 803.6,701.9 804.9,698.3 806.2,712.6 807.5,700.0 808.8,705.6 810.1,704.2 811.4,707.1 812.7,700.6 814.0,697.8 815.3,702.5 816.6,702.9 817.9,705.2 819.2,696.5 820.5,700.7 821.8,702.1 823.1,700.2 824.4,705.7 825.7,710.2 827.0,707.9 828.3,702.3 829.6,705.5 830.9,705.5 832.2,704.2 833.5,705.7 834.8,699.5 836.1,707.5 837.4,708.6 838.7,705.4 840.0,705.9 841.3,703.4 842.6,709.8 843.9,705.4 845.2,703.5 846.5,706.7 847.8,706.3 849.1,708.4 850.4,704.3 851.7,704.9 853.0,707.6 854.3,712.3 855.6,706.1 856.9,700.3 858.2,705.3 859.5,703.3 860.8,701.1 862.1,705.6 863.4,706.1 864.7,708.7 866.0,710.8 867.3,709.4 868.6,707.7 869.9,703.9 871.2,706.4 872.5,707.1 873.8,712.5 875.1,706.8 876.4,707.5 877.7,714.6 879.0,712.8 880.3,710.2 881.6,712.1 882.9,712.1 884.2,713.0 885.5,715.4 886.8,713.6 888.1,711.0 889.4,709.8 890.7,706.9 892.0,711.8 893.3,717.5 894.6,715.5 895.9,713.3 897.2,714.3 898.5,711.9 899.8,715.3 901.1,721.1 902.4,721.3 903.7,720.1 905.0,719.1 906.3,716.0 907.6,712.6 908.9,715.9 910.2,714.7 911.5,719.4 912.8,718.9 914.1,717.7 915.4,721.1 916.7,728.5 918.0,718.0 919.3,724.6 920.6,723.2 921.9,720.7 923.2,718.0 924.5,719.9 925.8,720.9 927.1,723.3 928.4,723.5 929.7,722.6 931.0,719.7 932.3,722.2 933.6,719.8 934.9,718.6 936.2,724.8 937.5,720.8 938.8,719.3 940.1,723.0 941.4,717.8 942.7,724.0 944.0,726.7 945.3,724.8 946.6,726.0 947.9,730.6 949.2,728.6 950.5,728.0 951.8,727.8 953.1,724.5 954.4,724.9 955.7,724.0 957.0,725.4 958.3,726.7 959.6,725.0 960.9,732.0 962.2,724.5 963.5,728.7 964.8,731.3 966.1,728.8 967.4,727.1 968.7,729.1 970.0,734.3 971.3,730.7 972.6,727.9 973.9,729.5 975.2,726.7 976.5,722.3 977.8,728.9 979.1,732.1 980.4,733.5 981.7,731.2 983.0,728.2 984.3,735.7 985.6,732.0 986.9,734.4 988.2,736.0 989.5,734.5 990.8,733.6 992.1,731.7 993.4,731.6 994.7,732.4 996.0,731.2 997.3,734.0 998.6,728.4 999.9,731.5 1001.2,734.4 1002.5,732.5 1003.8,732.6 1005.1,731.4 1006.4,737.2 1007.7,740.4 1009.0,733.2 1010.3,738.8 1011.6,731.8 1012.9,735.9 1014.2,729.4 1015.5,735.5 1016.8,734.3 1018.1,735.3 1019.4,738.7 1020.7,737.0 1022.0,734.7 1023.3,731.8 1024.6,734.2 1025.9,733.7 1027.2,736.1 1028.5,741.8 1029.8,740.3 1031.1,739.0 1032.4,740.0 1033.7,734.2 1035.0,738.1 1036.3,733.3 1037.6,736.0 1038.9,738.8 1040.2,739.0 1041.5,740.2 1042.8,739.2 1044.1,739.0 1045.4,738.6 1046.7,741.9 1048.0,741.1 1049.3,733.3 1050.6,737.3 1051.9,740.7 1053.2,737.0 1054.5,738.9 1055.8,737.2 1057.1,735.8 1058.4,739.7 1059.7,738.7 1061.0,739.0 1062.3,734.5 1063.6,734.5 1064.9,737.5 1066.2,737.7 1067.5,741.2 1068.8,737.5 1070.1,742.4 1071.4,742.3 1072.7,741.1 1074.0,742.9 1075.3,741.3 1076.6,740.6 1077.9,740.2 1079.2,736.6 1080.5,739.7 1081.8,741.7 1083.1,735.9 1084.4,743.0 1085.7,740.4 1087.0,740.9 1088.3,740.8 1089.6,739.8 1090.9,742.4 1092.2,740.0 1093.5,746.9 1094.8,743.2 1096.1,743.2 1097.4,742.5 1098.7,738.7 1100.0,737.9 1101.3,741.3 1102.6,742.9 1103.9,743.7 1105.2,740.6 1106.5,746.0 1107.8,741.4 1109.1,740.4 1110.4,745.0 1111.7,744.6 1113.0,738.3 1114.3,742.3 1115.6,737.0 1116.9,740.9 1118.2,747.3 1119.5,745.0 1120.8,743.3 1122.1,742.9 1123.4,739.0 1124.7,742.1 1126.0,742.6 1127.3,738.6 1128.6,741.1 1129.9,741.4 1131.2,740.6 1132.5,742.1 1133.8,741.8 1135.1,740.1 1136.4,743.0 1137.7,738.2 1139.0,741.9 1140.3,746.8 1141.6,747.9 1142.9,743.1 1144.2,734.7 1145.5,743.4 1146.8,740.8 1148.1,739.2 1149.4,742.3 1150.7,741.9 1152.0,736.9 1153.3,736.4 1154.6,742.7 1155.9,734.7 1157.2,742.9 1158.5,742.6 1159.8,744.2 1161.1,745.8 1162.4,744.8 1163.7,745.5 1165.0,743.6 1166.3,742.6 1167.6,744.0 1168.9,741.2 1170.2,738.8 1171.5,740.5 1172.8,735.7 1174.1,737.7 1175.4,744.5 1176.7,740.8 1178.0,739.0 1179.3,738.1 1180.6,735.6 1181.9,739.0 1183.2,737.9 1184.5,738.8 1185.8,738.5 1187.1,738.9 1188.4,735.3 1189.7,744.7 1191.0,742.3 1192.3,741.1 1193.6,740.0 1194.9,741.8 1196.2,743.7 1197.5,742.0 1198.8,737.3 1200.1,737.0 1201.4,734.2 1202.7,740.7 1204.0,742.2 1205.3,743.6 1206.6,741.1 1207.9,742.9 1209.2,738.1 1210.5,741.3 1211.8,739.1 1213.1,737.3 1214.4,734.6 1215.7,742.0 1217.0,733.0 1218.3,740.6 1219.6,737.1 1220.9,740.8 1222.2,737.6 1223.5,741.3 1224.8,739.5 1226.1,737.7 1227.4,738.8 1228.7,735.7 1230.0,740.6 1231.3,742.7 1232.6,741.1 1233.9,740.1 1235.2,742.8 1236.5,736.4 1237.8,741.6 1239.1,741.0 1240.4,739.9 1241.7,742.6 1243.0,738.8 1244.3,742.0 1245.6,742.8 1246.9,738.0 1248.2,739.9 1249.5,741.6 1250.8,742.0 1252.1,736.9 1253.4,741.8 1254.7,738.5 1256.0,739.2 1257.3,738.3 1258.6,743.3 1259.9,740.5 1261.2,742.8 1262.5,742.2 1263.8,742.5 1265.1,737.9 1266.4,743.4 1267.7,742.6 1269.0,746.9 1270.3,742.1 1271.6,740.9 1272.9,741.5 1274.2,740.5 1275.5,741.2 1276.8,738.5 1278.1,736.0 1279.4,737.2 1280.7,739.6 1282.0,743.1 1283.3,742.3 1284.6,741.6 1285.9,744.0 1287.2,743.9 1288.5,749.7 1289.8,744.5 1291.1,741.0 1292.4,736.7 1293.7,740.2 1295.0,740.1 1296.3,742.8 1297.6,747.2 1298.9,741.7 1300.2,736.9 1301.5,741.6 1302.8,737.4 1304.1,744.1 1305.4,744.9 1306.7,743.1 1308.0,738.7 1309.3,742.5 1310.6,746.1 1311.9,740.1 1313.2,741.1 1314.5,743.4 1315.8,743.6 1317.1,741.4 1318.4,741.2 1319.7,740.8 1321.0,738.9 1322.3,740.4 1323.6,741.8 1324.9,738.9 1326.2,741.9 1327.5,740.7 1328.8,741.3 1330.1,741.7 1331.4,739.2 1332.7,739.6 1334.0,743.9 1335.3,742.7 1336.6,743.2 1337.9,741.4 1339.2,739.4 1340.5,743.2 1341.8,742.3 1343.1,744.8 1344.4,746.6 1345.7,746.3 1347.0,745.1 1348.3,739.6 1349.6,736.9 1350.9,741.2 1352.2,739.7 1353.5,739.2 1354.8,744.3 1356.1,738.9 1357.4,745.7 1358.7,746.3 1360.0,750.5 1361.3,746.8 1362.6,749.5 1363.9,742.2 1365.2,741.5 1366.5,745.3 1367.8,739.4 1369.1,745.7 1370.4,742.4 1371.7,738.9 1373.0,749.3 1374.3,741.5 1375.6,750.1 1376.9,739.3 1378.2,740.9 1379.5,744.3 1380.8,744.9 1382.1,741.4 1383.4,745.3 1384.7,744.7 1386.0,745.0 1387.3,739.3 1388.6,741.5 1389.9,743.0 1391.2,746.0 1392.5,745.4 1393.8,744.7 1395.1,744.6 1396.4,749.1 1397.7,743.0 1399.0,745.3 1400.3,738.4 1401.6,748.2 1402.9,745.9 1404.2,741.2 1405.5,747.7 1406.8,749.8 1408.1,748.3 1409.4,746.4 1410.7,748.1 1412.0,743.6 1413.3,744.7 1414.6,744.5 1415.9,745.4 1417.2,742.1 1418.5,747.7 1419.8,743.6 1421.1,741.4 1422.4,744.3 1423.7,746.3 1425.0,745.5 1426.3,747.9 1427.6,743.9 1428.9,743.0 1430.2,746.7 1431.5,749.3 1432.8,744.1 1434.1,742.9 1435.4,744.9 1436.7,745.1 1438.0,741.6 1439.3,744.3 1440.6,742.2 1441.9,747.5 1443.2,743.1 1444.5,743.8 1445.8,745.5 1447.1,746.3 1448.4,747.3 1449.7,743.9 1451.0,745.6 1452.3,746.3 1453.6,748.3 1454.9,742.5 1456.2,741.7 1457.5,745.4 1458.8,743.1 1460.1,747.4 1461.4,745.0 1462.7,746.7 1464.0,744.6 1465.3,747.5 1466.6,749.9 1467.9,746.2 1469.2,743.7 1470.5,748.4 1471.8,744.3 1473.1,744.1 1474.4,741.5 1475.7,745.8 1477.0,742.4 1478.3,744.4 1479.6,746.7 1480.9,746.5 1482.2,741.5 1483.5,748.7 1484.8,744.8 1486.1,747.8 1487.4,745.6 1488.7,746.0 1490.0,744.6 1491.3,744.0 1492.6,747.2 1493.9,747.2 1495.2,748.7 1496.5,747.3 1497.8,744.4 1499.1,749.4 1500.4,751.9 1501.7,747.3 1503.0,744.0 1504.3,741.5 1505.6,744.5 1506.9,741.8 1508.2,748.3 1509.5,745.5 1510.8,744.7 1512.1,746.5 1513.4,742.7 1514.7,741.6 1516.0,744.8 1517.3,748.7 1518.6,743.5 1519.9,748.2 1521.2,741.8 1522.5,746.4 1523.8,747.9 1525.1,751.0 1526.4,741.9 1527.7,746.1 1529.0,744.4 1530.3,747.7 1531.6,745.4 1532.9,747.2 1534.2,745.7 1535.5,746.9 1536.8,749.7 1538.1,752.3 1539.4,748.7 1540.7,747.9 1542.0,745.6 1543.3,750.2 1544.6,741.4 1545.9,741.5 1547.2,743.9 1548.5,746.0 1549.8,747.3 1551.1,747.1 1552.4,747.5 1553.7,745.4 1555.0,744.0 1556.3,743.5 1557.6,748.2 1558.9,744.8 1560.2,747.6 1561.5,747.8 1562.8,744.2 1564.1,744.9 1565.4,745.2 1566.7,748.3 1568.0,746.2 1569.3,743.5 1570.6,746.2 1571.9,750.6 1573.2,748.7 1574.5,748.1 1575.8,745.4 1577.1,743.0 1578.4,745.1 1579.7,745.7 1581.0,745.3 1582.3,749.2 1583.6,745.4 1584.9,744.8 1586.2,745.1 1587.5,745.9 1588.8,740.5 1590.1,745.7 1591.4,747.8 1592.7,741.1 1594.0,744.6 1595.3,743.2 1596.6,743.1 1597.9,746.9 1599.2,746.2 1600.5,741.2 1601.8,745.0 1603.1,748.8 1604.4,745.9 1605.7,745.8 1607.0,745.9 1608.3,744.6 1609.6,747.1 1610.9,743.2 1612.2,742.8 1613.5,747.0 1614.8,747.9 1616.1,746.8 1617.4,747.2 1618.7,743.7 1620.0,741.6 1621.3,743.9 1622.6,746.3 1623.9,742.6 1625.2,745.7 1626.5,747.0 1627.8,743.1 1629.1,749.5 1630.4,746.9 1631.7,742.8"/>
<polyline class="crv" stroke="#0000ff" stroke-width="8" points="144.5,454.7 145.8,476.6 147.1,493.6 148.4,506.7 149.7,522.8 151.0,538.0 152.3,545.8 153.6,551.7 154.9,561.2 156.2,553.7 157.5,569.5 158.8,553.2 160.1,559.5 161.4,571.5 162.7,560.1 164.0,562.3 165.3,558.7 166.6,560.2 167.9,545.8 169.2,548.1 170.5,553.6 171.8,542.5 173.1,537.2 174.4,535.8 175.7,530.5 177.0,524.2 178.3,522.6 179.6,508.1 180.9,514.4 182.2,503.1 183.5,506.5 184.8,499.3 186.1,491.2 187.4,493.1 188.7,486.0 190.0,493.0 191.3,482.9 192.6,482.3 193.9,467.9 195.2,479.7 196.5,468.6 197.8,474.9 199.1,469.8 200.4,457.8 201.7,463.2 203.0,457.2 204.3,461.4 205.6,466.9 206.9,463.4 208.2,465.3 209.5,453.9 210.8,461.7 212.1,463.6 213.4,468.2 214.7,459.8 216.0,466.1 217.3,466.0 218.6,458.1 219.9,464.6 221.2,477.5 222.5,475.2 223.8,480.6 225.1,496.6 226.4,497.8 227.7,497.8 229.0,501.8 230.3,502.5 231.6,506.2 232.9,511.6 234.2,521.3 235.5,531.6 236.8,527.9 238.1,534.3 239.4,538.4 240.7,539.2 242.0,552.0 243.3,560.2 244.6,556.8 245.9,567.7 247.2,563.4 248.5,572.8 249.8,574.9 251.1,569.9 252.4,566.0 253.7,577.3 255.0,576.3 256.3,580.1 257.6,589.2 258.9,601.7 260.2,600.9 261.5,604.6 262.8,602.1 264.1,612.9 265.4,615.8 266.7,628.0 268.0,627.6 269.3,632.5 270.6,635.5 271.9,637.5 273.2,644.0 274.5,644.2 275.8,643.5 277.1,648.3 278.4,652.9 279.7,659.9 281.0,660.3 282.3,669.9 283.6,665.7 284.9,666.9 286.2,660.7 287.5,666.3 288.8,657.1 290.1,655.0 291.4,663.7 292.7,665.3 294.0,671.4 295.3,683.7 296.6,682.3 297.9,687.3 299.2,684.2 300.5,688.9 301.8,689.8 303.1,685.9 304.4,691.4 305.7,684.2 307.0,685.2 308.3,686.9 309.6,691.1 310.9,688.3 312.2,689.0 313.5,692.3 314.8,696.2 316.1,691.0 317.4,688.0 318.7,692.3 320.0,696.2 321.3,693.1 322.6,694.8 323.9,688.5 325.2,695.6 326.5,697.1 327.8,699.9 329.1,700.0 330.4,702.2 331.7,697.1 333.0,703.7 334.3,699.0 335.6,704.8 336.9,712.1 338.2,712.6 339.5,704.4 340.8,710.9 342.1,706.9 343.4,705.6 344.7,708.9 346.0,709.4 347.3,714.3 348.6,707.2 349.9,711.3 351.2,712.1 352.5,706.0 353.8,714.4 355.1,716.5 356.4,710.3 357.7,714.3 359.0,713.3 360.3,715.5 361.6,712.9 362.9,717.3 364.2,711.2 365.5,718.1 366.8,715.2 368.1,722.5 369.4,711.8 370.7,716.5 372.0,713.0 373.3,717.1 374.6,719.8 375.9,716.2 377.2,714.4 378.5,713.3 379.8,719.5 381.1,723.6 382.4,724.3 383.7,721.2 385.0,717.8 386.3,719.0 387.6,716.2 388.9,717.3 390.2,725.7 391.5,721.8 392.8,723.3 394.1,721.5 395.4,725.2 396.7,724.4 398.0,717.2 399.3,718.0 400.6,717.0 401.9,722.8 403.2,722.8 404.5,718.6 405.8,726.5 407.1,720.2 408.4,716.5 409.7,714.5 411.0,720.8 412.3,722.9 413.6,720.6 414.9,723.2 416.2,725.5 417.5,721.9 418.8,724.7 420.1,727.8 421.4,725.3 422.7,722.8 424.0,726.0 425.3,727.1 426.6,732.0 427.9,724.5 429.2,720.8 430.5,725.8 431.8,726.2 433.1,724.2 434.4,726.3 435.7,724.7 437.0,726.9 438.3,721.7 439.6,722.9 440.9,725.3 442.2,724.1 443.5,729.3 444.8,728.1 446.1,727.0 447.4,731.3 448.7,728.0 450.0,729.0 451.3,728.2 452.6,725.1 453.9,725.3 455.2,727.2 456.5,725.9 457.8,728.3 459.1,730.7 460.4,728.1 461.7,723.8 463.0,732.8 464.3,723.8 465.6,728.9 466.9,729.2 468.2,730.4 469.5,724.8 470.8,728.2 472.1,728.5 473.4,732.8 474.7,731.0 476.0,731.2 477.3,731.4 478.6,735.2 479.9,731.3 481.2,731.6 482.5,726.7 483.8,731.6 485.1,726.2 486.4,732.0 487.7,729.8 489.0,727.2 490.3,726.4 491.6,729.6 492.9,730.6 494.2,728.8 495.5,729.4 496.8,729.8 498.1,729.7 499.4,731.0 500.7,732.7 502.0,735.7 503.3,733.6 504.6,729.6 505.9,734.9 507.2,733.5 508.5,730.0 509.8,734.1 511.1,729.9 512.4,728.9 513.7,728.1 515.0,734.0 516.3,729.6 517.6,729.6 518.9,728.3 520.2,727.0 521.5,730.1 522.8,731.3 524.1,735.2 525.4,727.5 526.7,734.2 528.0,731.8 529.3,724.8 530.6,731.6 531.9,732.4 533.2,729.9 534.5,726.7 535.8,726.0 537.1,719.7 538.4,726.0 539.7,725.7 541.0,723.1 542.3,726.9 543.6,724.5 544.9,731.9 546.2,721.0 547.5,720.6 548.8,716.2 550.1,721.5 551.4,724.5 552.7,725.5 554.0,723.4 555.3,726.3 556.6,723.9 557.9,727.2 559.2,724.5 560.5,720.0 561.8,724.4 563.1,721.8 564.4,726.9 565.7,722.6 567.0,723.5 568.3,723.8 569.6,718.6 570.9,720.5 572.2,723.1 573.5,718.8 574.8,720.6 576.1,722.5 577.4,720.8 578.7,721.6 580.0,723.0 581.3,720.4 582.6,721.4 583.9,720.5 585.2,717.2 586.5,715.7 587.8,724.7 589.1,723.1 590.4,718.8 591.7,721.4 593.0,721.2 594.3,720.5 595.6,716.5 596.9,713.2 598.2,713.2 599.5,715.7 600.8,720.0 602.1,720.8 603.4,716.2 604.7,716.5 606.0,721.2 607.3,724.0 608.6,715.0 609.9,717.6 611.2,715.3 612.5,713.6 613.8,713.7 615.1,714.1 616.4,715.8 617.7,711.5 619.0,715.5 620.3,717.4 621.6,717.5 622.9,717.8 624.2,716.5 625.5,716.3 626.8,721.7 628.1,715.4 629.4,716.2 630.7,718.7 632.0,714.0 633.3,708.4 634.6,709.5 635.9,710.1 637.2,711.7 638.5,711.5 639.8,715.9 641.1,714.7 642.4,713.7 643.7,710.5 645.0,713.7 646.3,712.5 647.6,716.0 648.9,708.3 650.2,710.3 651.5,714.7 652.8,706.5 654.1,709.4 655.4,708.2 656.7,707.6 658.0,705.5 659.3,709.4 660.6,704.6 661.9,711.4 663.2,705.0 664.5,706.5 665.8,706.3 667.1,707.5 668.4,707.6 669.7,708.8 671.0,706.4 672.3,706.7 673.6,702.1 674.9,701.4 676.2,701.2 677.5,699.9 678.8,698.4 680.1,700.9 681.4,705.2 682.7,704.8 684.0,702.6 685.3,705.1 686.6,705.0 687.9,711.6 689.2,698.2 690.5,703.8 691.8,699.1 693.1,707.3 694.4,702.6 695.7,703.9 697.0,702.2 698.3,702.9 699.6,691.9 700.9,698.6 702.2,704.2 703.5,700.7 704.8,706.1 706.1,707.2 707.4,698.7 708.7,701.7 710.0,705.5 711.3,709.0 712.6,705.9 713.9,704.6 715.2,699.4 716.5,702.1 717.8,702.5 719.1,700.0 720.4,702.7 721.7,700.6 723.0,700.8 724.3,708.6 725.6,700.1 726.9,705.2 728.2,698.2 729.5,700.2 730.8,697.4 732.1,699.6 733.4,706.0 734.7,701.4 736.0,695.9 737.3,706.4 738.6,698.4 739.9,699.2 741.2,700.7 742.5,696.3 743.8,708.3 745.1,707.9 746.4,702.9 747.7,705.3 749.0,703.0 750.3,701.1 751.6,701.5 752.9,698.0 754.2,702.4 755.5,702.5 756.8,709.6 758.1,698.7 759.4,707.4 760.7,706.2 762.0,705.0 763.3,703.1 764.6,709.9 765.9,708.1 767.2,703.6 768.5,703.9 769.8,705.7 771.1,710.9 772.4,702.2 773.7,705.1 775.0,708.3 776.3,700.4 777.6,704.4 778.9,708.5 780.2,703.8 781.5,704.1 782.8,699.0 784.1,704.7 785.4,700.1 786.7,703.1 788.0,705.7 789.3,702.8 790.6,707.2 791.9,707.6 793.2,707.4 794.5,708.7 795.8,704.9 797.1,698.8 798.4,708.3 799.7,708.1 801.0,704.4 802.3,703.3 803.6,709.3 804.9,704.5 806.2,705.5 807.5,705.8 808.8,714.5 810.1,705.4 811.4,700.2 812.7,708.6 814.0,705.9 815.3,702.9 816.6,706.9 817.9,703.4 819.2,707.0 820.5,703.4 821.8,708.3 823.1,708.3 824.4,706.2 825.7,708.9 827.0,711.7 828.3,707.5 829.6,700.4 830.9,704.4 832.2,704.3 833.5,707.5 834.8,703.7 836.1,708.0 837.4,704.8 838.7,706.0 840.0,705.8 841.3,707.0 842.6,706.6 843.9,707.9 845.2,704.6 846.5,704.1 847.8,707.2 849.1,707.5 850.4,705.5 851.7,708.2 853.0,708.5 854.3,713.0 855.6,704.2 856.9,714.9 858.2,701.9 859.5,703.3 860.8,709.2 862.1,706.1 863.4,709.1 864.7,709.3 866.0,706.7 867.3,706.4 868.6,709.6 869.9,712.3 871.2,713.7 872.5,712.8 873.8,710.7 875.1,714.4 876.4,704.7 877.7,711.8 879.0,715.7 880.3,716.8 881.6,715.9 882.9,716.5 884.2,715.5 885.5,713.0 886.8,706.6 888.1,712.5 889.4,714.4 890.7,721.4 892.0,716.5 893.3,716.8 894.6,719.0 895.9,713.5 897.2,716.0 898.5,717.0 899.8,714.4 901.1,715.8 902.4,711.9 903.7,714.5 905.0,718.1 906.3,722.4 907.6,717.3 908.9,716.2 910.2,717.3 911.5,722.7 912.8,717.3 914.1,721.3 915.4,718.9 916.7,720.1 918.0,718.4 919.3,721.5 920.6,725.9 921.9,721.6 923.2,721.2 924.5,715.8 925.8,725.1 927.1,722.0 928.4,724.4 929.7,723.2 931.0,721.1 932.3,722.0 933.6,720.2 934.9,729.6 936.2,726.8 937.5,726.8 938.8,727.8 940.1,728.4 941.4,727.1 942.7,727.4 944.0,731.1 945.3,719.3 946.6,724.9 947.9,723.1 949.2,725.5 950.5,718.3 951.8,721.8 953.1,726.6 954.4,721.1 955.7,726.9 957.0,724.1 958.3,727.1 959.6,724.2 960.9,726.5 962.2,723.4 963.5,728.8 964.8,722.5 966.1,728.4 967.4,726.4 968.7,728.4 970.0,733.9 971.3,730.2 972.6,729.6 973.9,731.7 975.2,734.0 976.5,731.2 977.8,737.8 979.1,733.9 980.4,732.3 981.7,730.7 983.0,730.8 984.3,732.0 985.6,733.9 986.9,732.5 988.2,731.7 989.5,734.1 990.8,729.6 992.1,738.8 993.4,737.7 994.7,734.2 996.0,736.6 997.3,733.0 998.6,741.5 999.9,737.1 1001.2,736.7 1002.5,743.8 1003.8,735.9 1005.1,739.5 1006.4,736.1 1007.7,736.5 1009.0,736.3 1010.3,734.7 1011.6,739.7 1012.9,738.9 1014.2,734.6 1015.5,742.2 1016.8,736.2 1018.1,737.3 1019.4,740.0 1020.7,735.9 1022.0,741.5 1023.3,735.7 1024.6,735.7 1025.9,742.6 1027.2,738.0 1028.5,739.8 1029.8,736.8 1031.1,738.3 1032.4,739.7 1033.7,733.3 1035.0,739.2 1036.3,736.3 1037.6,740.9 1038.9,742.4 1040.2,739.7 1041.5,741.5 1042.8,743.9 1044.1,744.6 1045.4,738.2 1046.7,738.1 1048.0,739.6 1049.3,737.3 1050.6,740.8 1051.9,742.4 1053.2,739.7 1054.5,742.3 1055.8,744.3 1057.1,740.4 1058.4,741.5 1059.7,740.3 1061.0,739.7 1062.3,738.5 1063.6,737.4 1064.9,741.7 1066.2,742.7 1067.5,739.6 1068.8,739.9 1070.1,736.4 1071.4,740.0 1072.7,741.8 1074.0,740.6 1075.3,741.0 1076.6,738.9 1077.9,738.9 1079.2,741.4 1080.5,745.0 1081.8,739.8 1083.1,737.7 1084.4,741.0 1085.7,742.7 1087.0,746.0 1088.3,745.0 1089.6,739.9 1090.9,739.8 1092.2,742.7 1093.5,743.5 1094.8,739.7 1096.1,743.3 1097.4,739.6 1098.7,742.0 1100.0,741.3 1101.3,742.9 1102.6,741.3 1103.9,743.0 1105.2,746.5 1106.5,744.3 1107.8,746.7 1109.1,739.1 1110.4,741.5 1111.7,739.0 1113.0,737.8 1114.3,741.6 1115.6,746.9 1116.9,742.6 1118.2,744.3 1119.5,736.9 1120.8,742.7 1122.1,739.5 1123.4,742.8 1124.7,744.5 1126.0,740.5 1127.3,744.3 1128.6,739.3 1129.9,740.7 1131.2,738.2 1132.5,740.3 1133.8,740.7 1135.1,736.3 1136.4,741.2 1137.7,740.9 1139.0,746.5 1140.3,736.6 1141.6,744.3 1142.9,746.6 1144.2,748.4 1145.5,745.7 1146.8,741.8 1148.1,745.7 1149.4,742.1 1150.7,742.3 1152.0,741.7 1153.3,740.9 1154.6,745.0 1155.9,736.7 1157.2,736.8 1158.5,742.6 1159.8,740.9 1161.1,741.9 1162.4,739.4 1163.7,742.2 1165.0,740.2 1166.3,739.7 1167.6,739.9 1168.9,741.3 1170.2,741.3 1171.5,740.6 1172.8,745.8 1174.1,742.5 1175.4,740.2 1176.7,737.7 1178.0,740.4 1179.3,735.7 1180.6,737.4 1181.9,737.7 1183.2,739.4 1184.5,742.3 1185.8,733.2 1187.1,744.9 1188.4,742.4 1189.7,740.5 1191.0,740.7 1192.3,744.5 1193.6,741.9 1194.9,745.9 1196.2,741.1 1197.5,739.5 1198.8,737.9 1200.1,740.1 1201.4,741.9 1202.7,736.0 1204.0,743.1 1205.3,743.0 1206.6,740.6 1207.9,744.0 1209.2,735.0 1210.5,733.2 1211.8,739.5 1213.1,740.4 1214.4,740.7 1215.7,739.8 1217.0,736.2 1218.3,741.4 1219.6,738.7 1220.9,741.7 1222.2,740.8 1223.5,738.2 1224.8,742.7 1226.1,742.6 1227.4,742.1 1228.7,738.3 1230.0,737.5 1231.3,741.7 1232.6,739.1 1233.9,739.3 1235.2,742.5 1236.5,742.5 1237.8,740.9 1239.1,739.2 1240.4,743.7 1241.7,737.3 1243.0,740.5 1244.3,742.1 1245.6,738.1 1246.9,739.4 1248.2,742.6 1249.5,739.6 1250.8,737.7 1252.1,745.8 1253.4,742.6 1254.7,742.1 1256.0,746.0 1257.3,736.8 1258.6,738.8 1259.9,737.6 1261.2,743.5 1262.5,738.5 1263.8,747.4 1265.1,742.7 1266.4,741.8 1267.7,743.2 1269.0,740.1 1270.3,738.6 1271.6,740.0 1272.9,741.9 1274.2,738.7 1275.5,741.0 1276.8,739.3 1278.1,741.1 1279.4,741.8 1280.7,746.1 1282.0,748.0 1283.3,747.1 1284.6,741.6 1285.9,739.3 1287.2,743.4 1288.5,744.8 1289.8,744.9 1291.1,741.7 1292.4,744.2 1293.7,742.3 1295.0,744.9 1296.3,744.0 1297.6,741.7 1298.9,740.0 1300.2,746.1 1301.5,743.3 1302.8,746.0 1304.1,745.6 1305.4,745.9 1306.7,746.8 1308.0,743.1 1309.3,742.7 1310.6,744.5 1311.9,734.1 1313.2,742.2 1314.5,741.3 1315.8,744.7 1317.1,744.1 1318.4,743.0 1319.7,740.2 1321.0,742.2 1322.3,741.3 1323.6,742.2 1324.9,742.9 1326.2,741.1 1327.5,744.4 1328.8,741.7 1330.1,744.3 1331.4,744.4 1332.7,747.2 1334.0,743.9 1335.3,747.8 1336.6,742.4 1337.9,740.7 1339.2,745.1 1340.5,741.4 1341.8,746.1 1343.1,745.8 1344.4,744.9 1345.7,745.8 1347.0,746.2 1348.3,749.3 1349.6,745.5 1350.9,740.2 1352.2,743.2 1353.5,745.0 1354.8,744.6 1356.1,744.0 1357.4,743.4 1358.7,742.2 1360.0,749.5 1361.3,744.8 1362.6,743.5 1363.9,739.3 1365.2,749.4 1366.5,744.4 1367.8,740.0 1369.1,747.2 1370.4,747.2 1371.7,741.5 1373.0,747.0 1374.3,744.4 1375.6,745.8 1376.9,748.0 1378.2,743.8 1379.5,750.2 1380.8,744.2 1382.1,743.1 1383.4,748.1 1384.7,744.1 1386.0,745.3 1387.3,748.0 1388.6,743.0 1389.9,741.5 1391.2,745.5 1392.5,744.2 1393.8,742.3 1395.1,746.0 1396.4,740.8 1397.7,745.3 1399.0,740.3 1400.3,744.7 1401.6,741.5 1402.9,747.0 1404.2,745.6 1405.5,744.7 1406.8,745.7 1408.1,744.5 1409.4,746.5 1410.7,743.1 1412.0,746.6 1413.3,745.3 1414.6,744.5 1415.9,744.2 1417.2,742.2 1418.5,746.1 1419.8,746.1 1421.1,746.8 1422.4,741.5 1423.7,744.3 1425.0,749.5 1426.3,749.4 1427.6,746.5 1428.9,747.2 1430.2,747.7 1431.5,749.3 1432.8,750.0 1434.1,747.4 1435.4,747.8 1436.7,747.1 1438.0,747.5 1439.3,750.6 1440.6,744.0 1441.9,746.8 1443.2,742.5 1444.5,743.2 1445.8,742.0 1447.1,744.6 1448.4,749.7 1449.7,750.5 1451.0,748.7 1452.3,746.5 1453.6,748.6 1454.9,742.5 1456.2,740.8 1457.5,742.2 1458.8,745.1 1460.1,742.4 1461.4,745.2 1462.7,751.3 1464.0,746.6 1465.3,745.7 1466.6,744.0 1467.9,746.4 1469.2,746.5 1470.5,746.0 1471.8,745.5 1473.1,740.0 1474.4,741.5 1475.7,744.4 1477.0,744.3 1478.3,745.5 1479.6,745.9 1480.9,752.2 1482.2,750.5 1483.5,744.7 1484.8,748.8 1486.1,747.8 1487.4,747.1 1488.7,747.3 1490.0,749.3 1491.3,752.8 1492.6,746.6 1493.9,747.4 1495.2,747.4 1496.5,743.0 1497.8,746.7 1499.1,744.4 1500.4,746.9 1501.7,747.1 1503.0,750.2 1504.3,745.1 1505.6,745.1 1506.9,747.9 1508.2,751.4 1509.5,747.4 1510.8,748.5 1512.1,749.1 1513.4,749.1 1514.7,746.4 1516.0,745.4 1517.3,745.4 1518.6,745.8 1519.9,746.9 1521.2,743.9 1522.5,744.5 1523.8,746.6 1525.1,746.0 1526.4,746.0 1527.7,742.0 1529.0,748.9 1530.3,743.6 1531.6,744.1 1532.9,743.1 1534.2,746.8 1535.5,748.9 1536.8,747.2 1538.1,747.8 1539.4,747.8 1540.7,753.6 1542.0,749.5 1543.3,747.1 1544.6,748.3 1545.9,749.8 1547.2,747.3 1548.5,748.2 1549.8,748.6 1551.1,748.2 1552.4,750.2 1553.7,752.9 1555.0,750.0 1556.3,747.5 1557.6,745.3 1558.9,746.2 1560.2,744.7 1561.5,744.3 1562.8,748.2 1564.1,747.5 1565.4,749.4 1566.7,748.2 1568.0,746.7 1569.3,749.9 1570.6,747.8 1571.9,748.9 1573.2,742.2 1574.5,743.7 1575.8,745.5 1577.1,750.2 1578.4,748.3 1579.7,744.6 1581.0,745.0 1582.3,748.3 1583.6,743.3 1584.9,745.5 1586.2,746.6 1587.5,745.7 1588.8,747.2 1590.1,748.6 1591.4,746.9 1592.7,742.1 1594.0,747.8 1595.3,747.7 1596.6,744.3 1597.9,746.3 1599.2,744.3 1600.5,751.0 1601.8,746.5 1603.1,748.3 1604.4,747.4 1605.7,748.0 1607.0,744.4 1608.3,743.5 1609.6,746.4 1610.9,748.3 1612.2,746.0 1613.5,747.9 1614.8,743.8 1616.1,749.8 1617.4,744.7 1618.7,749.1 1620.0,749.0 1621.3,748.3 1622.6,748.2 1623.9,744.0 1625.2,747.1 1626.5,745.0 1627.8,745.3 1629.1,742.5 1630.4,749.6 1631.7,744.9"/>
</g>

<!-- panel a -->
<g id="panel-a" shape-rendering="crispEdges">
<polyline class="crv" stroke="#000000" stroke-width="5.6" points="144.5,883.5 145.8,913.1 147.1,933.0 148.4,945.7 149.7,953.9 151.0,959.5 152.3,956.7 153.6,969.3 154.9,968.8 156.2,982.6 157.5,981.6 158.8,979.6 160.1,983.3 161.4,984.5 162.7,986.4 164.0,992.0 165.3,991.6 166.6,997.5 167.9,995.7 169.2,994.2 170.5,991.0 171.8,992.4 173.1,999.4 174.4,1001.0 175.7,1002.2 177.0,994.0 178.3,996.4 179.6,994.7 180.9,997.5 182.2,991.9 183.5,1001.7 184.8,996.4 186.1,999.3 187.4,1003.4 188.7,1005.5 190.0,1001.6 191.3,1012.5 192.6,1011.7 193.9,1012.2 195.2,1009.0 196.5,1006.8 197.8,1008.6 199.1,1015.6 200.4,1019.3 201.7,1018.5 203.0,1028.0 204.3,1022.6 205.6,1023.9 206.9,1022.4 208.2,1014.6 209.5,1021.1 210.8,1020.4 212.1,1017.1 213.4,1026.5 214.7,1030.3 216.0,1031.9 217.3,1032.8 218.6,1025.1 219.9,1029.9 221.2,1029.6 222.5,1031.9 223.8,1032.9 225.1,1038.0 226.4,1038.1 227.7,1032.5 229.0,1037.6 230.3,1040.7 231.6,1037.2 232.9,1031.4 234.2,1034.1 235.5,1035.6 236.8,1031.0 238.1,1036.1 239.4,1032.4 240.7,1038.5 242.0,1037.0 243.3,1033.3 244.6,1028.1 245.9,1032.1 247.2,1028.6 248.5,1028.4 249.8,1034.0 251.1,1026.7 252.4,1023.3 253.7,1029.1 255.0,1030.6 256.3,1027.5 257.6,1022.3 258.9,1025.2 260.2,1015.5 261.5,1021.4 262.8,1018.1 264.1,1007.4 265.4,1008.5 266.7,1001.9 268.0,1002.0 269.3,1005.6 270.6,996.2 271.9,995.8 273.2,991.5 274.5,986.1 275.8,984.7 277.1,982.7 278.4,970.0 279.7,966.3 281.0,962.5 282.3,950.5 283.6,943.8 284.9,932.6 286.2,937.9 287.5,935.7 288.8,929.1 290.1,929.7 291.4,922.5 292.7,914.9 294.0,907.3 295.3,900.7 296.6,900.9 297.9,899.6 299.2,895.3 300.5,892.5 301.8,891.1 303.1,895.9 304.4,891.2 305.7,900.6 307.0,908.8 308.3,917.6 309.6,923.5 310.9,926.8 312.2,933.1 313.5,938.4 314.8,952.4 316.1,955.9 317.4,959.6 318.7,961.2 320.0,964.7 321.3,977.9 322.6,980.3 323.9,988.3 325.2,999.4 326.5,995.1 327.8,1003.5 329.1,1011.7 330.4,1016.4 331.7,1015.0 333.0,1022.5 334.3,1024.6 335.6,1028.2 336.9,1034.5 338.2,1036.7 339.5,1042.7 340.8,1043.4 342.1,1048.7 343.4,1045.0 344.7,1052.6 346.0,1050.8 347.3,1053.1 348.6,1056.3 349.9,1063.9 351.2,1064.3 352.5,1061.7 353.8,1071.6 355.1,1072.5 356.4,1071.3 357.7,1072.9 359.0,1074.7 360.3,1072.6 361.6,1081.7 362.9,1075.1 364.2,1076.1 365.5,1076.4 366.8,1076.1 368.1,1076.2 369.4,1079.9 370.7,1077.0 372.0,1077.6 373.3,1078.4 374.6,1082.9 375.9,1079.9 377.2,1080.5 378.5,1083.7 379.8,1080.9 381.1,1083.5 382.4,1087.2 383.7,1086.6 385.0,1085.6 386.3,1088.5 387.6,1084.8 388.9,1084.6 390.2,1082.2 391.5,1086.1 392.8,1088.2 394.1,1086.6 395.4,1092.7 396.7,1091.5 398.0,1091.4 399.3,1087.2 400.6,1090.5 401.9,1090.9 403.2,1085.9 404.5,1089.7 405.8,1090.0 407.1,1088.1 408.4,1093.0 409.7,1095.8 411.0,1093.0 412.3,1090.0 413.6,1091.7 414.9,1094.7 416.2,1090.9 417.5,1093.2 418.8,1092.9 420.1,1093.6 421.4,1096.5 422.7,1090.6 424.0,1095.7 425.3,1094.3 426.6,1094.1 427.9,1091.5 429.2,1095.1 430.5,1094.0 431.8,1090.0 433.1,1093.4 434.4,1093.6 435.7,1093.6 437.0,1094.3 438.3,1094.6 439.6,1099.9 440.9,1099.6 442.2,1097.2 443.5,1099.2 444.8,1100.4 446.1,1097.5 447.4,1094.1 448.7,1096.8 450.0,1098.6 451.3,1094.5 452.6,1096.4 453.9,1097.7 455.2,1097.7 456.5,1097.1 457.8,1096.6 459.1,1095.8 460.4,1094.9 461.7,1097.9 463.0,1098.2 464.3,1096.2 465.6,1096.6 466.9,1100.6 468.2,1100.0 469.5,1096.1 470.8,1094.2 472.1,1097.8 473.4,1099.5 474.7,1099.8 476.0,1098.9 477.3,1094.3 478.6,1097.3 479.9,1097.3 481.2,1097.4 482.5,1103.7 483.8,1099.4 485.1,1099.5 486.4,1097.8 487.7,1098.6 489.0,1099.0 490.3,1096.5 491.6,1097.2 492.9,1096.7 494.2,1096.0 495.5,1097.8 496.8,1098.8 498.1,1098.1 499.4,1097.7 500.7,1094.8 502.0,1098.1 503.3,1097.5 504.6,1100.2 505.9,1097.2 507.2,1096.5 508.5,1095.7 509.8,1097.8 511.1,1098.5 512.4,1098.8 513.7,1095.6 515.0,1097.9 516.3,1101.0 517.6,1099.5 518.9,1098.9 520.2,1098.4 521.5,1095.4 522.8,1095.1 524.1,1097.0 525.4,1100.7 526.7,1101.0 528.0,1098.6 529.3,1099.4 530.6,1098.7 531.9,1099.8 533.2,1097.0 534.5,1099.2 535.8,1101.0 537.1,1097.7 538.4,1099.7 539.7,1100.3 541.0,1100.5 542.3,1100.8 543.6,1101.1 544.9,1102.0 546.2,1102.8 547.5,1101.4 548.8,1104.3 550.1,1099.4 551.4,1099.4 552.7,1100.5 554.0,1099.7 555.3,1099.5 556.6,1099.9 557.9,1103.5 559.2,1100.4 560.5,1099.4 561.8,1104.6 563.1,1102.5 564.4,1102.5 565.7,1101.2 567.0,1103.3 568.3,1102.2 569.6,1103.5 570.9,1103.5 572.2,1103.6 573.5,1104.7 574.8,1103.3 576.1,1104.1 577.4,1103.5 578.7,1105.3 580.0,1105.8 581.3,1105.8 582.6,1101.8 583.9,1107.2 585.2,1104.8 586.5,1105.4 587.8,1105.9 589.1,1105.8 590.4,1107.4 591.7,1105.5 593.0,1105.9 594.3,1107.2 595.6,1108.1 596.9,1104.7 598.2,1103.9 599.5,1102.6 600.8,1102.8 602.1,1106.3 603.4,1106.4 604.7,1106.2 606.0,1106.7 607.3,1106.9 608.6,1108.4 609.9,1109.0 611.2,1105.3 612.5,1108.3 613.8,1107.5 615.1,1104.9 616.4,1106.6 617.7,1106.0 619.0,1104.2 620.3,1106.6 621.6,1104.0 622.9,1105.9 624.2,1104.4 625.5,1105.7 626.8,1107.7 628.1,1106.7 629.4,1105.6 630.7,1107.4 632.0,1108.4 633.3,1109.0 634.6,1106.4 635.9,1108.6 637.2,1106.1 638.5,1105.3 639.8,1107.9 641.1,1107.7 642.4,1108.0 643.7,1107.3 645.0,1104.6 646.3,1108.0 647.6,1108.4 648.9,1107.5 650.2,1109.7 651.5,1107.0 652.8,1108.6 654.1,1107.1 655.4,1103.9 656.7,1103.5 658.0,1104.6 659.3,1105.4 660.6,1106.5 661.9,1104.6 663.2,1103.8 664.5,1108.2 665.8,1105.1 667.1,1105.5 668.4,1107.6 669.7,1105.0 671.0,1100.9 672.3,1104.5 673.6,1102.0 674.9,1103.8 676.2,1098.9 677.5,1101.5 678.8,1101.9 680.1,1102.5 681.4,1101.2 682.7,1100.5 684.0,1098.5 685.3,1098.1 686.6,1096.0 687.9,1099.0 689.2,1099.6 690.5,1097.6 691.8,1094.6 693.1,1093.2 694.4,1094.5 695.7,1097.6 697.0,1093.9 698.3,1090.4 699.6,1090.7 700.9,1092.8 702.2,1090.1 703.5,1090.2 704.8,1089.7 706.1,1088.5 707.4,1093.8 708.7,1088.0 710.0,1089.7 711.3,1091.2 712.6,1088.4 713.9,1087.5 715.2,1087.5 716.5,1087.2 717.8,1086.2 719.1,1085.3 720.4,1085.2 721.7,1086.1 723.0,1089.1 724.3,1084.0 725.6,1086.1 726.9,1084.2 728.2,1083.2 729.5,1083.1 730.8,1086.1 732.1,1082.3 733.4,1085.8 734.7,1084.1 736.0,1088.5 737.3,1082.2 738.6,1085.9 739.9,1085.5 741.2,1084.0 742.5,1081.4 743.8,1083.3 745.1,1082.0 746.4,1080.3 747.7,1081.7 749.0,1079.0 750.3,1079.6 751.6,1080.9 752.9,1077.6 754.2,1077.2 755.5,1079.2 756.8,1077.9 758.1,1073.0 759.4,1075.8 760.7,1074.8 762.0,1071.4 763.3,1070.0 764.6,1076.2 765.9,1073.4 767.2,1075.9 768.5,1074.9 769.8,1076.8 771.1,1073.7 772.4,1073.9 773.7,1074.5 775.0,1069.9 776.3,1073.7 777.6,1074.2 778.9,1066.5 780.2,1067.3 781.5,1069.2 782.8,1072.7 784.1,1067.8 785.4,1065.8 786.7,1065.1 788.0,1069.6 789.3,1068.8 790.6,1066.1 791.9,1068.4 793.2,1066.4 794.5,1069.9 795.8,1062.5 797.1,1063.9 798.4,1067.1 799.7,1061.8 801.0,1061.1 802.3,1062.6 803.6,1068.3 804.9,1064.8 806.2,1068.6 807.5,1063.0 808.8,1065.0 810.1,1067.3 811.4,1066.5 812.7,1065.6 814.0,1063.0 815.3,1071.4 816.6,1072.3 817.9,1071.4 819.2,1066.1 820.5,1067.7 821.8,1071.0 823.1,1071.4 824.4,1077.2 825.7,1071.8 827.0,1073.0 828.3,1071.4 829.6,1071.2 830.9,1078.9 832.2,1078.3 833.5,1077.6 834.8,1080.4 836.1,1076.1 837.4,1084.6 838.7,1079.1 840.0,1078.1 841.3,1080.8 842.6,1084.2 843.9,1084.3 845.2,1086.6 846.5,1087.3 847.8,1086.3 849.1,1088.7 850.4,1083.4 851.7,1088.8 853.0,1089.1 854.3,1088.9 855.6,1088.0 856.9,1087.8 858.2,1088.3 859.5,1086.4 860.8,1088.5 862.1,1091.1 863.4,1091.5 864.7,1087.8 866.0,1088.1 867.3,1089.1 868.6,1090.7 869.9,1091.4 871.2,1092.0 872.5,1093.4 873.8,1086.5 875.1,1088.6 876.4,1090.4 877.7,1091.6 879.0,1092.6 880.3,1095.2 881.6,1090.2 882.9,1093.4 884.2,1092.6 885.5,1093.3 886.8,1093.6 888.1,1094.4 889.4,1093.1 890.7,1090.9 892.0,1093.9 893.3,1093.6 894.6,1089.3 895.9,1092.5 897.2,1091.6 898.5,1092.0 899.8,1093.1 901.1,1096.4 902.4,1090.1 903.7,1093.5 905.0,1089.7 906.3,1093.5 907.6,1095.7 908.9,1091.1 910.2,1096.4 911.5,1094.7 912.8,1093.3 914.1,1093.4 915.4,1094.2 916.7,1094.5 918.0,1093.8 919.3,1095.1 920.6,1094.3 921.9,1091.5 923.2,1095.8 924.5,1097.7 925.8,1097.4 927.1,1094.5 928.4,1090.7 929.7,1093.2 931.0,1095.0 932.3,1095.6 933.6,1092.7 934.9,1095.9 936.2,1096.5 937.5,1092.8 938.8,1094.2 940.1,1093.1 941.4,1094.4 942.7,1096.0 944.0,1089.5 945.3,1096.0 946.6,1094.7 947.9,1090.2 949.2,1095.6 950.5,1094.6 951.8,1093.4 953.1,1093.1 954.4,1090.6 955.7,1092.7 957.0,1089.9 958.3,1091.9 959.6,1094.4 960.9,1092.2 962.2,1091.7 963.5,1093.8 964.8,1094.2 966.1,1093.7 967.4,1090.5 968.7,1092.8 970.0,1092.9 971.3,1089.5 972.6,1092.2 973.9,1088.3 975.2,1091.8 976.5,1090.6 977.8,1093.1 979.1,1091.5 980.4,1087.5 981.7,1092.5 983.0,1088.7 984.3,1092.8 985.6,1093.7 986.9,1092.4 988.2,1091.3 989.5,1092.0 990.8,1088.8 992.1,1091.6 993.4,1093.3 994.7,1093.2 996.0,1090.4 997.3,1095.2 998.6,1092.8 999.9,1089.9 1001.2,1093.1 1002.5,1090.7 1003.8,1091.1 1005.1,1091.2 1006.4,1094.3 1007.7,1095.9 1009.0,1088.9 1010.3,1092.5 1011.6,1092.4 1012.9,1093.8 1014.2,1092.9 1015.5,1090.6 1016.8,1091.7 1018.1,1089.4 1019.4,1089.0 1020.7,1092.0 1022.0,1091.8 1023.3,1090.7 1024.6,1093.4 1025.9,1091.6 1027.2,1091.3 1028.5,1092.7 1029.8,1094.3 1031.1,1092.3 1032.4,1096.7 1033.7,1093.4 1035.0,1094.1 1036.3,1095.2 1037.6,1094.4 1038.9,1093.5 1040.2,1093.6 1041.5,1094.6 1042.8,1094.7 1044.1,1093.5 1045.4,1091.4 1046.7,1090.1 1048.0,1090.8 1049.3,1091.6 1050.6,1093.3 1051.9,1092.8 1053.2,1091.5 1054.5,1094.6 1055.8,1092.4 1057.1,1094.0 1058.4,1092.5 1059.7,1096.1 1061.0,1095.4 1062.3,1095.4 1063.6,1097.0 1064.9,1096.7 1066.2,1092.8 1067.5,1095.7 1068.8,1093.8 1070.1,1094.9 1071.4,1095.3 1072.7,1093.2 1074.0,1093.3 1075.3,1095.6 1076.6,1095.8 1077.9,1096.8 1079.2,1095.8 1080.5,1095.6 1081.8,1096.5 1083.1,1097.5 1084.4,1097.5 1085.7,1099.2 1087.0,1097.7 1088.3,1098.1 1089.6,1098.1 1090.9,1101.6 1092.2,1100.5 1093.5,1100.8 1094.8,1100.9 1096.1,1099.2 1097.4,1101.2 1098.7,1101.0 1100.0,1100.6 1101.3,1097.5 1102.6,1102.1 1103.9,1101.7 1105.2,1101.9 1106.5,1103.6 1107.8,1099.7 1109.1,1104.6 1110.4,1102.1 1111.7,1104.3 1113.0,1105.0 1114.3,1102.1 1115.6,1104.3 1116.9,1103.4 1118.2,1105.0 1119.5,1102.7 1120.8,1107.6 1122.1,1106.0 1123.4,1105.1 1124.7,1103.7 1126.0,1106.3 1127.3,1103.3 1128.6,1105.1 1129.9,1102.3 1131.2,1104.9 1132.5,1101.7 1133.8,1105.0 1135.1,1103.1 1136.4,1102.9 1137.7,1105.5 1139.0,1105.3 1140.3,1103.8 1141.6,1103.6 1142.9,1105.8 1144.2,1101.9 1145.5,1103.6 1146.8,1103.2 1148.1,1104.2 1149.4,1104.1 1150.7,1104.0 1152.0,1102.6 1153.3,1104.7 1154.6,1105.2 1155.9,1104.4 1157.2,1107.9 1158.5,1104.8 1159.8,1104.9 1161.1,1106.9 1162.4,1103.4 1163.7,1103.8 1165.0,1102.2 1166.3,1104.6 1167.6,1104.3 1168.9,1105.5 1170.2,1103.6 1171.5,1106.7 1172.8,1105.4 1174.1,1105.9 1175.4,1104.6 1176.7,1103.0 1178.0,1106.1 1179.3,1105.4 1180.6,1104.7 1181.9,1107.6 1183.2,1105.6 1184.5,1105.4 1185.8,1105.9 1187.1,1105.7 1188.4,1105.6 1189.7,1106.2 1191.0,1105.4 1192.3,1104.5 1193.6,1103.8 1194.9,1105.3 1196.2,1106.0 1197.5,1106.7 1198.8,1104.3 1200.1,1103.0 1201.4,1102.8 1202.7,1106.6 1204.0,1105.1 1205.3,1104.3 1206.6,1104.7 1207.9,1108.9 1209.2,1107.1 1210.5,1106.7 1211.8,1104.5 1213.1,1106.7 1214.4,1104.8 1215.7,1104.5 1217.0,1107.7 1218.3,1106.7 1219.6,1107.4 1220.9,1104.5 1222.2,1105.7 1223.5,1104.7 1224.8,1105.8 1226.1,1105.4 1227.4,1105.6 1228.7,1104.7 1230.0,1107.7 1231.3,1104.2 1232.6,1107.0 1233.9,1106.6 1235.2,1107.9 1236.5,1104.8 1237.8,1107.3 1239.1,1104.8 1240.4,1106.6 1241.7,1106.5 1243.0,1110.4 1244.3,1105.3 1245.6,1106.0 1246.9,1104.1 1248.2,1104.6 1249.5,1105.2 1250.8,1104.7 1252.1,1104.2 1253.4,1104.7 1254.7,1105.5 1256.0,1106.0 1257.3,1108.2 1258.6,1106.7 1259.9,1106.2 1261.2,1105.5 1262.5,1106.6 1263.8,1107.4 1265.1,1105.3 1266.4,1106.9 1267.7,1106.3 1269.0,1103.0 1270.3,1108.8 1271.6,1107.4 1272.9,1104.3 1274.2,1103.8 1275.5,1106.7 1276.8,1105.3 1278.1,1106.3 1279.4,1104.9 1280.7,1107.1 1282.0,1104.6 1283.3,1105.8 1284.6,1105.9 1285.9,1104.3 1287.2,1105.7 1288.5,1104.5 1289.8,1104.2 1291.1,1103.7 1292.4,1100.2 1293.7,1101.6 1295.0,1105.0 1296.3,1099.9 1297.6,1097.4 1298.9,1097.0 1300.2,1096.0 1301.5,1098.9 1302.8,1091.2 1304.1,1089.7 1305.4,1090.2 1306.7,1083.4 1308.0,1082.0 1309.3,1081.1 1310.6,1080.5 1311.9,1081.9 1313.2,1080.4 1314.5,1077.3 1315.8,1080.1 1317.1,1070.3 1318.4,1076.0 1319.7,1071.1 1321.0,1073.9 1322.3,1072.8 1323.6,1070.9 1324.9,1078.1 1326.2,1079.7 1327.5,1077.5 1328.8,1075.6 1330.1,1083.5 1331.4,1075.3 1332.7,1082.2 1334.0,1080.1 1335.3,1080.7 1336.6,1084.6 1337.9,1082.2 1339.2,1086.5 1340.5,1086.1 1341.8,1089.0 1343.1,1088.8 1344.4,1089.9 1345.7,1090.2 1347.0,1091.9 1348.3,1091.5 1349.6,1095.1 1350.9,1096.7 1352.2,1095.3 1353.5,1098.2 1354.8,1097.0 1356.1,1098.6 1357.4,1097.0 1358.7,1098.9 1360.0,1101.2 1361.3,1101.0 1362.6,1099.4 1363.9,1104.4 1365.2,1103.7 1366.5,1106.6 1367.8,1105.8 1369.1,1105.7 1370.4,1104.6 1371.7,1106.0 1373.0,1105.5 1374.3,1107.0 1375.6,1107.8 1376.9,1104.8 1378.2,1106.7 1379.5,1108.6 1380.8,1106.1 1382.1,1107.1 1383.4,1108.0 1384.7,1108.1 1386.0,1108.7 1387.3,1108.9 1388.6,1109.5 1389.9,1107.8 1391.2,1109.4 1392.5,1109.5 1393.8,1107.2 1395.1,1108.1 1396.4,1109.7 1397.7,1109.3 1399.0,1109.5 1400.3,1108.4 1401.6,1108.4 1402.9,1110.1 1404.2,1106.6 1405.5,1107.5 1406.8,1110.0 1408.1,1110.1 1409.4,1110.2 1410.7,1109.7 1412.0,1108.6 1413.3,1106.6 1414.6,1109.0 1415.9,1109.0 1417.2,1107.7 1418.5,1106.8 1419.8,1108.2 1421.1,1109.7 1422.4,1108.9 1423.7,1110.5 1425.0,1108.1 1426.3,1107.4 1427.6,1107.3 1428.9,1108.0 1430.2,1108.4 1431.5,1109.5 1432.8,1108.4 1434.1,1107.1 1435.4,1107.4 1436.7,1108.5 1438.0,1107.6 1439.3,1107.7 1440.6,1106.9 1441.9,1107.7 1443.2,1108.0 1444.5,1108.1 1445.8,1109.0 1447.1,1110.7 1448.4,1108.2 1449.7,1108.4 1451.0,1105.4 1452.3,1108.3 1453.6,1107.0 1454.9,1109.1 1456.2,1108.1 1457.5,1109.4 1458.8,1106.4 1460.1,1109.2 1461.4,1109.9 1462.7,1108.6 1464.0,1110.5 1465.3,1106.6 1466.6,1108.5 1467.9,1107.9 1469.2,1110.0 1470.5,1106.4 1471.8,1110.2 1473.1,1111.2 1474.4,1107.5 1475.7,1110.0 1477.0,1107.4 1478.3,1109.8 1479.6,1110.1 1480.9,1106.9 1482.2,1110.7 1483.5,1108.3 1484.8,1108.5 1486.1,1109.5 1487.4,1109.8 1488.7,1108.6 1490.0,1109.3 1491.3,1109.2 1492.6,1106.9 1493.9,1108.8 1495.2,1108.4 1496.5,1107.8 1497.8,1108.6 1499.1,1107.1 1500.4,1105.8 1501.7,1109.5 1503.0,1109.4 1504.3,1108.7 1505.6,1108.0 1506.9,1111.9 1508.2,1109.4 1509.5,1107.8 1510.8,1109.3 1512.1,1109.4 1513.4,1106.8 1514.7,1109.6 1516.0,1105.9 1517.3,1108.0 1518.6,1109.6 1519.9,1109.9 1521.2,1108.6 1522.5,1108.8 1523.8,1106.5 1525.1,1108.0 1526.4,1109.1 1527.7,1106.1 1529.0,1108.7 1530.3,1108.9 1531.6,1109.5 1532.9,1108.9 1534.2,1109.0 1535.5,1108.7 1536.8,1106.6 1538.1,1106.9 1539.4,1107.3 1540.7,1105.9 1542.0,1108.4 1543.3,1109.9 1544.6,1110.1 1545.9,1108.7 1547.2,1109.4 1548.5,1107.4 1549.8,1107.5 1551.1,1108.3 1552.4,1105.6 1553.7,1106.7 1555.0,1108.7 1556.3,1112.4 1557.6,1109.2 1558.9,1109.2 1560.2,1110.0 1561.5,1107.4 1562.8,1104.7 1564.1,1105.5 1565.4,1105.4 1566.7,1109.2 1568.0,1106.7 1569.3,1106.8 1570.6,1106.7 1571.9,1106.6 1573.2,1106.9 1574.5,1106.9 1575.8,1108.1 1577.1,1106.5 1578.4,1104.3 1579.7,1107.6 1581.0,1107.2 1582.3,1105.9 1583.6,1106.4 1584.9,1104.9 1586.2,1108.9 1587.5,1107.5 1588.8,1106.7 1590.1,1105.5 1591.4,1107.5 1592.7,1107.6 1594.0,1106.8 1595.3,1105.9 1596.6,1108.5 1597.9,1105.3 1599.2,1107.1 1600.5,1107.3 1601.8,1104.1 1603.1,1106.1 1604.4,1107.4 1605.7,1106.4 1607.0,1104.2 1608.3,1106.8 1609.6,1108.8 1610.9,1107.0 1612.2,1106.9 1613.5,1105.3 1614.8,1106.1 1616.1,1107.0 1617.4,1104.3 1618.7,1104.5 1620.0,1105.8 1621.3,1105.8 1622.6,1106.0 1623.9,1105.5 1625.2,1107.1 1626.5,1105.0 1627.8,1105.1 1629.1,1103.8 1630.4,1103.1 1631.7,1103.7"/>
<polyline class="crv" stroke="#a0a0a0" stroke-width="7" points="144.5,883.7 145.8,894.5 147.1,904.2 148.4,911.0 149.7,919.4 151.0,927.0 152.3,932.8 153.6,937.9 154.9,939.6 156.2,947.0 157.5,956.8 158.8,951.0 160.1,959.5 161.4,952.9 162.7,959.5 164.0,961.8 165.3,966.9 166.6,963.1 167.9,968.0 169.2,962.1 170.5,962.4 171.8,966.0 173.1,960.3 174.4,964.3 175.7,968.0 177.0,973.3 178.3,971.4 179.6,968.8 180.9,969.4 182.2,972.3 183.5,982.3 184.8,978.2 186.1,976.2 187.4,975.2 188.7,977.4 190.0,968.7 191.3,981.0 192.6,978.6 193.9,980.3 195.2,982.1 196.5,983.9 197.8,981.5 199.1,975.3 200.4,980.3 201.7,986.2 203.0,984.6 204.3,992.6 205.6,988.8 206.9,998.7 208.2,984.8 209.5,990.3 210.8,997.3 212.1,991.5 213.4,988.1 214.7,984.7 216.0,979.6 217.3,992.0 218.6,987.9 219.9,992.7 221.2,989.6 222.5,991.3 223.8,987.7 225.1,988.7 226.4,991.6 227.7,985.4 229.0,978.9 230.3,990.9 231.6,996.9 232.9,990.9 234.2,991.8 235.5,999.6 236.8,986.9 238.1,991.7 239.4,989.2 240.7,985.5 242.0,983.3 243.3,987.9 244.6,982.2 245.9,986.1 247.2,992.0 248.5,990.0 249.8,987.7 251.1,992.7 252.4,991.1 253.7,985.3 255.0,988.8 256.3,991.7 257.6,996.4 258.9,984.8 260.2,985.2 261.5,991.9 262.8,992.0 264.1,997.4 265.4,984.8 266.7,992.9 268.0,995.2 269.3,999.4 270.6,999.6 271.9,1002.9 273.2,998.2 274.5,994.8 275.8,997.0 277.1,990.4 278.4,998.8 279.7,992.5 281.0,993.6 282.3,985.9 283.6,994.7 284.9,1000.4 286.2,994.6 287.5,997.4 288.8,984.2 290.1,993.3 291.4,994.5 292.7,987.3 294.0,991.0 295.3,1000.1 296.6,996.9 297.9,995.1 299.2,1000.2 300.5,997.9 301.8,1004.6 303.1,1003.3 304.4,999.1 305.7,991.6 307.0,997.0 308.3,1001.6 309.6,1002.6 310.9,1002.0 312.2,1010.6 313.5,1005.2 314.8,1013.4 316.1,1008.6 317.4,1005.8 318.7,1017.4 320.0,1013.6 321.3,1024.0 322.6,1024.0 323.9,1017.6 325.2,1018.3 326.5,1018.6 327.8,1026.3 329.1,1019.5 330.4,1031.2 331.7,1030.0 333.0,1033.2 334.3,1038.4 335.6,1034.6 336.9,1037.0 338.2,1038.1 339.5,1044.9 340.8,1037.5 342.1,1045.8 343.4,1050.0 344.7,1047.6 346.0,1048.0 347.3,1055.9 348.6,1051.5 349.9,1054.6 351.2,1051.9 352.5,1061.4 353.8,1059.2 355.1,1061.4 356.4,1057.4 357.7,1062.1 359.0,1062.2 360.3,1062.0 361.6,1061.5 362.9,1068.6 364.2,1062.6 365.5,1067.8 366.8,1074.8 368.1,1073.1 369.4,1074.1 370.7,1071.4 372.0,1070.6 373.3,1076.8 374.6,1073.3 375.9,1073.1 377.2,1072.4 378.5,1079.3 379.8,1074.1 381.1,1082.1 382.4,1078.2 383.7,1076.5 385.0,1079.0 386.3,1078.7 387.6,1075.0 388.9,1077.9 390.2,1078.9 391.5,1079.3 392.8,1076.5 394.1,1083.6 395.4,1079.3 396.7,1083.1 398.0,1079.3 399.3,1079.7 400.6,1082.5 401.9,1083.0 403.2,1083.6 404.5,1082.3 405.8,1080.9 407.1,1086.0 408.4,1080.9 409.7,1085.5 411.0,1086.6 412.3,1083.2 413.6,1083.5 414.9,1082.1 416.2,1085.2 417.5,1087.2 418.8,1086.3 420.1,1087.8 421.4,1084.4 422.7,1081.9 424.0,1085.3 425.3,1085.7 426.6,1087.8 427.9,1091.8 429.2,1082.9 430.5,1086.4 431.8,1085.3 433.1,1087.1 434.4,1085.4 435.7,1085.3 437.0,1084.0 438.3,1085.1 439.6,1087.5 440.9,1089.2 442.2,1089.8 443.5,1088.4 444.8,1085.4 446.1,1088.0 447.4,1085.7 448.7,1088.9 450.0,1088.7 451.3,1090.2 452.6,1088.0 453.9,1087.0 455.2,1086.7 456.5,1086.7 457.8,1089.2 459.1,1092.0 460.4,1089.8 461.7,1093.4 463.0,1091.8 464.3,1092.6 465.6,1089.8 466.9,1092.0 468.2,1089.8 469.5,1091.4 470.8,1090.2 472.1,1090.6 473.4,1089.0 474.7,1090.3 476.0,1093.4 477.3,1092.2 478.6,1094.1 479.9,1093.1 481.2,1092.8 482.5,1091.6 483.8,1094.3 485.1,1088.7 486.4,1091.9 487.7,1095.6 489.0,1089.6 490.3,1090.9 491.6,1093.7 492.9,1093.9 494.2,1091.4 495.5,1095.6 496.8,1092.2 498.1,1094.5 499.4,1090.3 500.7,1093.0 502.0,1092.5 503.3,1090.0 504.6,1091.0 505.9,1092.6 507.2,1094.3 508.5,1093.2 509.8,1091.6 511.1,1096.0 512.4,1092.5 513.7,1093.5 515.0,1095.8 516.3,1090.9 517.6,1097.4 518.9,1093.6 520.2,1090.8 521.5,1095.8 522.8,1092.1 524.1,1092.8 525.4,1095.5 526.7,1089.9 528.0,1094.7 529.3,1092.3 530.6,1095.5 531.9,1092.0 533.2,1093.3 534.5,1095.7 535.8,1092.5 537.1,1094.1 538.4,1093.8 539.7,1095.6 541.0,1093.3 542.3,1096.4 543.6,1096.6 544.9,1093.6 546.2,1097.7 547.5,1099.7 548.8,1097.4 550.1,1094.8 551.4,1095.1 552.7,1096.3 554.0,1095.6 555.3,1096.8 556.6,1096.0 557.9,1098.8 559.2,1097.4 560.5,1094.6 561.8,1099.6 563.1,1096.3 564.4,1094.5 565.7,1098.4 567.0,1095.6 568.3,1097.7 569.6,1103.2 570.9,1096.0 572.2,1097.2 573.5,1095.5 574.8,1096.8 576.1,1094.8 577.4,1094.1 578.7,1097.8 580.0,1095.9 581.3,1099.5 582.6,1096.6 583.9,1096.7 585.2,1096.0 586.5,1094.9 587.8,1098.7 589.1,1097.9 590.4,1097.3 591.7,1099.2 593.0,1102.0 594.3,1097.1 595.6,1100.4 596.9,1098.4 598.2,1097.7 599.5,1097.7 600.8,1097.9 602.1,1097.2 603.4,1097.2 604.7,1093.2 606.0,1095.7 607.3,1101.1 608.6,1096.8 609.9,1098.8 611.2,1099.5 612.5,1098.8 613.8,1097.3 615.1,1094.8 616.4,1095.7 617.7,1097.2 619.0,1094.7 620.3,1095.9 621.6,1098.9 622.9,1095.2 624.2,1097.3 625.5,1097.0 626.8,1092.2 628.1,1090.6 629.4,1093.4 630.7,1091.5 632.0,1092.7 633.3,1094.5 634.6,1095.5 635.9,1091.1 637.2,1094.2 638.5,1092.8 639.8,1092.8 641.1,1091.2 642.4,1092.0 643.7,1091.5 645.0,1094.1 646.3,1092.8 647.6,1093.4 648.9,1094.6 650.2,1092.9 651.5,1093.2 652.8,1095.1 654.1,1090.2 655.4,1091.5 656.7,1090.0 658.0,1088.8 659.3,1091.6 660.6,1093.7 661.9,1089.1 663.2,1087.6 664.5,1092.9 665.8,1087.7 667.1,1088.7 668.4,1091.5 669.7,1092.3 671.0,1091.6 672.3,1092.5 673.6,1091.8 674.9,1089.3 676.2,1091.7 677.5,1089.0 678.8,1087.3 680.1,1090.9 681.4,1090.2 682.7,1083.7 684.0,1086.0 685.3,1088.4 686.6,1090.9 687.9,1090.1 689.2,1084.6 690.5,1086.0 691.8,1084.0 693.1,1089.5 694.4,1086.6 695.7,1087.2 697.0,1088.3 698.3,1079.6 699.6,1085.1 700.9,1081.5 702.2,1079.5 703.5,1082.6 704.8,1079.3 706.1,1084.5 707.4,1080.2 708.7,1082.0 710.0,1080.8 711.3,1077.7 712.6,1079.3 713.9,1078.8 715.2,1081.2 716.5,1084.5 717.8,1081.2 719.1,1084.0 720.4,1080.0 721.7,1079.2 723.0,1078.0 724.3,1080.4 725.6,1082.4 726.9,1077.9 728.2,1079.9 729.5,1076.5 730.8,1076.4 732.1,1078.8 733.4,1078.5 734.7,1081.4 736.0,1079.5 737.3,1079.2 738.6,1077.9 739.9,1077.9 741.2,1076.3 742.5,1080.6 743.8,1081.5 745.1,1077.9 746.4,1078.6 747.7,1081.2 749.0,1077.5 750.3,1074.0 751.6,1074.2 752.9,1076.4 754.2,1072.8 755.5,1074.5 756.8,1081.0 758.1,1072.9 759.4,1074.0 760.7,1074.9 762.0,1076.2 763.3,1079.4 764.6,1079.2 765.9,1075.3 767.2,1076.0 768.5,1075.1 769.8,1074.5 771.1,1077.1 772.4,1076.6 773.7,1072.8 775.0,1073.0 776.3,1072.6 777.6,1074.7 778.9,1074.9 780.2,1073.4 781.5,1079.0 782.8,1070.6 784.1,1069.5 785.4,1071.9 786.7,1070.6 788.0,1070.6 789.3,1071.7 790.6,1074.4 791.9,1073.6 793.2,1070.6 794.5,1067.9 795.8,1069.0 797.1,1066.8 798.4,1072.6 799.7,1068.5 801.0,1074.5 802.3,1070.2 803.6,1069.9 804.9,1072.2 806.2,1073.0 807.5,1071.9 808.8,1073.5 810.1,1068.4 811.4,1068.7 812.7,1073.2 814.0,1074.7 815.3,1071.0 816.6,1076.5 817.9,1072.3 819.2,1076.3 820.5,1072.9 821.8,1069.5 823.1,1072.6 824.4,1070.9 825.7,1075.9 827.0,1075.5 828.3,1069.5 829.6,1068.7 830.9,1071.3 832.2,1074.8 833.5,1071.8 834.8,1073.9 836.1,1075.1 837.4,1071.5 838.7,1074.2 840.0,1071.9 841.3,1072.7 842.6,1076.8 843.9,1077.9 845.2,1075.5 846.5,1078.4 847.8,1080.1 849.1,1075.0 850.4,1080.4 851.7,1081.2 853.0,1079.6 854.3,1078.7 855.6,1078.9 856.9,1080.7 858.2,1078.6 859.5,1078.0 860.8,1081.9 862.1,1079.2 863.4,1082.4 864.7,1077.8 866.0,1077.8 867.3,1084.4 868.6,1082.7 869.9,1079.7 871.2,1077.4 872.5,1078.3 873.8,1074.2 875.1,1079.2 876.4,1087.5 877.7,1083.3 879.0,1078.0 880.3,1084.8 881.6,1085.0 882.9,1080.6 884.2,1081.8 885.5,1083.1 886.8,1080.9 888.1,1086.8 889.4,1082.1 890.7,1083.3 892.0,1085.6 893.3,1078.4 894.6,1082.8 895.9,1084.4 897.2,1082.1 898.5,1082.9 899.8,1083.8 901.1,1081.7 902.4,1075.3 903.7,1080.6 905.0,1079.6 906.3,1083.5 907.6,1082.7 908.9,1080.2 910.2,1082.1 911.5,1081.9 912.8,1082.2 914.1,1081.7 915.4,1084.2 916.7,1083.6 918.0,1085.2 919.3,1083.1 920.6,1086.9 921.9,1082.5 923.2,1085.3 924.5,1080.6 925.8,1082.4 927.1,1080.7 928.4,1082.7 929.7,1082.3 931.0,1083.1 932.3,1083.1 933.6,1084.5 934.9,1087.9 936.2,1082.2 937.5,1086.2 938.8,1085.9 940.1,1086.1 941.4,1087.1 942.7,1088.3 944.0,1079.5 945.3,1084.7 946.6,1080.0 947.9,1081.9 949.2,1087.8 950.5,1089.2 951.8,1086.7 953.1,1086.7 954.4,1091.8 955.7,1083.6 957.0,1086.0 958.3,1087.5 959.6,1085.8 960.9,1085.4 962.2,1087.3 963.5,1085.4 964.8,1086.7 966.1,1090.9 967.4,1086.5 968.7,1088.3 970.0,1089.7 971.3,1085.0 972.6,1087.7 973.9,1083.8 975.2,1091.0 976.5,1085.1 977.8,1090.4 979.1,1087.7 980.4,1085.8 981.7,1087.7 983.0,1087.6 984.3,1089.7 985.6,1089.5 986.9,1085.7 988.2,1087.4 989.5,1084.1 990.8,1088.0 992.1,1090.6 993.4,1086.7 994.7,1088.9 996.0,1087.5 997.3,1088.0 998.6,1093.1 999.9,1089.7 1001.2,1090.3 1002.5,1090.4 1003.8,1086.1 1005.1,1087.8 1006.4,1085.8 1007.7,1088.7 1009.0,1090.1 1010.3,1088.4 1011.6,1091.9 1012.9,1089.9 1014.2,1088.0 1015.5,1089.6 1016.8,1089.6 1018.1,1090.3 1019.4,1092.7 1020.7,1089.1 1022.0,1087.9 1023.3,1091.1 1024.6,1087.6 1025.9,1091.2 1027.2,1093.9 1028.5,1090.3 1029.8,1088.1 1031.1,1092.3 1032.4,1093.2 1033.7,1092.4 1035.0,1090.4 1036.3,1092.2 1037.6,1093.5 1038.9,1093.1 1040.2,1089.2 1041.5,1091.9 1042.8,1088.4 1044.1,1096.5 1045.4,1094.8 1046.7,1091.2 1048.0,1098.4 1049.3,1093.2 1050.6,1096.9 1051.9,1090.1 1053.2,1088.2 1054.5,1091.3 1055.8,1092.4 1057.1,1092.5 1058.4,1093.1 1059.7,1096.1 1061.0,1098.9 1062.3,1096.3 1063.6,1088.5 1064.9,1095.8 1066.2,1094.0 1067.5,1094.0 1068.8,1094.2 1070.1,1096.8 1071.4,1095.1 1072.7,1096.7 1074.0,1096.4 1075.3,1097.3 1076.6,1096.3 1077.9,1095.3 1079.2,1099.1 1080.5,1096.6 1081.8,1095.6 1083.1,1099.6 1084.4,1095.8 1085.7,1099.0 1087.0,1094.8 1088.3,1098.1 1089.6,1094.7 1090.9,1096.2 1092.2,1094.4 1093.5,1097.7 1094.8,1098.3 1096.1,1097.7 1097.4,1095.7 1098.7,1097.3 1100.0,1097.8 1101.3,1096.0 1102.6,1095.8 1103.9,1097.2 1105.2,1099.3 1106.5,1094.9 1107.8,1100.1 1109.1,1093.6 1110.4,1099.6 1111.7,1095.6 1113.0,1096.0 1114.3,1094.4 1115.6,1095.7 1116.9,1093.4 1118.2,1092.6 1119.5,1095.9 1120.8,1094.0 1122.1,1095.2 1123.4,1100.4 1124.7,1094.8 1126.0,1100.7 1127.3,1094.9 1128.6,1094.3 1129.9,1097.6 1131.2,1096.4 1132.5,1099.1 1133.8,1097.0 1135.1,1098.8 1136.4,1096.4 1137.7,1094.8 1139.0,1098.7 1140.3,1094.9 1141.6,1095.7 1142.9,1093.4 1144.2,1095.9 1145.5,1095.6 1146.8,1095.8 1148.1,1098.1 1149.4,1096.9 1150.7,1093.9 1152.0,1095.8 1153.3,1095.8 1154.6,1098.6 1155.9,1096.6 1157.2,1095.3 1158.5,1101.5 1159.8,1101.5 1161.1,1096.4 1162.4,1095.2 1163.7,1097.7 1165.0,1097.6 1166.3,1099.7 1167.6,1095.0 1168.9,1095.5 1170.2,1098.9 1171.5,1099.1 1172.8,1098.6 1174.1,1098.4 1175.4,1092.5 1176.7,1096.9 1178.0,1096.7 1179.3,1095.2 1180.6,1096.2 1181.9,1097.2 1183.2,1095.7 1184.5,1100.4 1185.8,1095.9 1187.1,1098.5 1188.4,1096.6 1189.7,1095.0 1191.0,1097.2 1192.3,1095.5 1193.6,1098.0 1194.9,1099.3 1196.2,1098.4 1197.5,1097.7 1198.8,1099.3 1200.1,1098.4 1201.4,1100.5 1202.7,1099.2 1204.0,1099.4 1205.3,1097.7 1206.6,1097.8 1207.9,1095.8 1209.2,1096.6 1210.5,1096.5 1211.8,1099.1 1213.1,1096.3 1214.4,1102.6 1215.7,1098.8 1217.0,1099.9 1218.3,1096.7 1219.6,1094.6 1220.9,1096.4 1222.2,1098.4 1223.5,1102.0 1224.8,1098.4 1226.1,1097.9 1227.4,1100.1 1228.7,1098.9 1230.0,1096.9 1231.3,1099.5 1232.6,1094.2 1233.9,1099.4 1235.2,1097.8 1236.5,1099.3 1237.8,1098.7 1239.1,1097.4 1240.4,1101.4 1241.7,1099.7 1243.0,1099.5 1244.3,1097.8 1245.6,1098.3 1246.9,1097.7 1248.2,1098.2 1249.5,1101.4 1250.8,1099.7 1252.1,1098.1 1253.4,1100.9 1254.7,1098.0 1256.0,1099.4 1257.3,1101.9 1258.6,1099.8 1259.9,1102.1 1261.2,1098.1 1262.5,1098.6 1263.8,1099.4 1265.1,1099.6 1266.4,1097.4 1267.7,1097.3 1269.0,1098.5 1270.3,1101.7 1271.6,1098.2 1272.9,1105.0 1274.2,1100.6 1275.5,1104.9 1276.8,1096.6 1278.1,1099.3 1279.4,1098.9 1280.7,1096.1 1282.0,1099.0 1283.3,1099.9 1284.6,1099.5 1285.9,1098.6 1287.2,1100.1 1288.5,1098.2 1289.8,1097.2 1291.1,1096.1 1292.4,1096.8 1293.7,1097.7 1295.0,1099.9 1296.3,1095.3 1297.6,1097.5 1298.9,1096.6 1300.2,1099.3 1301.5,1097.0 1302.8,1095.3 1304.1,1092.7 1305.4,1096.2 1306.7,1096.0 1308.0,1092.6 1309.3,1093.7 1310.6,1094.4 1311.9,1097.3 1313.2,1092.4 1314.5,1088.8 1315.8,1092.8 1317.1,1087.8 1318.4,1092.1 1319.7,1090.1 1321.0,1095.8 1322.3,1090.5 1323.6,1090.2 1324.9,1090.5 1326.2,1088.7 1327.5,1089.3 1328.8,1089.0 1330.1,1091.7 1331.4,1094.5 1332.7,1092.2 1334.0,1094.5 1335.3,1094.5 1336.6,1089.9 1337.9,1090.7 1339.2,1093.6 1340.5,1088.3 1341.8,1090.9 1343.1,1088.0 1344.4,1092.8 1345.7,1092.1 1347.0,1091.6 1348.3,1094.3 1349.6,1093.9 1350.9,1097.4 1352.2,1092.7 1353.5,1094.1 1354.8,1090.9 1356.1,1097.0 1357.4,1096.5 1358.7,1096.2 1360.0,1096.5 1361.3,1098.6 1362.6,1097.3 1363.9,1096.9 1365.2,1100.6 1366.5,1096.1 1367.8,1099.7 1369.1,1097.8 1370.4,1100.1 1371.7,1099.5 1373.0,1099.8 1374.3,1100.1 1375.6,1101.7 1376.9,1101.4 1378.2,1102.2 1379.5,1100.8 1380.8,1103.2 1382.1,1102.7 1383.4,1101.6 1384.7,1099.2 1386.0,1098.5 1387.3,1106.5 1388.6,1103.2 1389.9,1102.0 1391.2,1102.2 1392.5,1101.6 1393.8,1105.1 1395.1,1102.2 1396.4,1105.2 1397.7,1103.2 1399.0,1100.9 1400.3,1106.5 1401.6,1105.1 1402.9,1105.7 1404.2,1105.2 1405.5,1104.4 1406.8,1104.0 1408.1,1102.6 1409.4,1108.2 1410.7,1105.4 1412.0,1105.8 1413.3,1105.5 1414.6,1103.0 1415.9,1099.7 1417.2,1099.8 1418.5,1106.3 1419.8,1108.4 1421.1,1104.7 1422.4,1100.0 1423.7,1103.9 1425.0,1104.4 1426.3,1104.3 1427.6,1102.4 1428.9,1102.8 1430.2,1104.7 1431.5,1103.7 1432.8,1102.9 1434.1,1106.0 1435.4,1105.4 1436.7,1106.1 1438.0,1105.5 1439.3,1105.6 1440.6,1105.6 1441.9,1104.0 1443.2,1102.5 1444.5,1104.5 1445.8,1104.5 1447.1,1102.5 1448.4,1105.7 1449.7,1103.0 1451.0,1104.8 1452.3,1106.9 1453.6,1105.1 1454.9,1104.2 1456.2,1102.7 1457.5,1104.9 1458.8,1103.5 1460.1,1106.7 1461.4,1106.9 1462.7,1106.2 1464.0,1107.3 1465.3,1104.5 1466.6,1105.6 1467.9,1104.6 1469.2,1106.4 1470.5,1105.7 1471.8,1104.2 1473.1,1105.5 1474.4,1105.1 1475.7,1104.8 1477.0,1105.1 1478.3,1103.4 1479.6,1106.6 1480.9,1103.6 1482.2,1105.6 1483.5,1105.3 1484.8,1102.7 1486.1,1106.4 1487.4,1103.4 1488.7,1103.0 1490.0,1104.1 1491.3,1106.0 1492.6,1106.0 1493.9,1104.3 1495.2,1104.7 1496.5,1103.9 1497.8,1105.6 1499.1,1104.7 1500.4,1106.1 1501.7,1106.6 1503.0,1105.2 1504.3,1101.1 1505.6,1104.3 1506.9,1106.8 1508.2,1105.1 1509.5,1103.7 1510.8,1102.0 1512.1,1104.3 1513.4,1104.3 1514.7,1105.5 1516.0,1104.8 1517.3,1106.6 1518.6,1103.2 1519.9,1106.6 1521.2,1105.1 1522.5,1104.4 1523.8,1106.3 1525.1,1105.5 1526.4,1106.2 1527.7,1106.3 1529.0,1105.0 1530.3,1104.6 1531.6,1108.1 1532.9,1107.4 1534.2,1105.7 1535.5,1103.5 1536.8,1105.9 1538.1,1103.8 1539.4,1103.7 1540.7,1105.6 1542.0,1104.8 1543.3,1103.3 1544.6,1102.5 1545.9,1103.6 1547.2,1107.1 1548.5,1103.0 1549.8,1103.2 1551.1,1106.7 1552.4,1108.3 1553.7,1105.8 1555.0,1103.2 1556.3,1103.5 1557.6,1105.2 1558.9,1103.2 1560.2,1105.0 1561.5,1104.8 1562.8,1104.3 1564.1,1103.8 1565.4,1103.5 1566.7,1104.5 1568.0,1105.8 1569.3,1103.8 1570.6,1101.6 1571.9,1102.0 1573.2,1104.5 1574.5,1101.7 1575.8,1103.5 1577.1,1102.7 1578.4,1101.1 1579.7,1102.0 1581.0,1101.2 1582.3,1097.1 1583.6,1104.7 1584.9,1105.3 1586.2,1101.3 1587.5,1104.3 1588.8,1100.4 1590.1,1101.6 1591.4,1104.8 1592.7,1103.0 1594.0,1105.1 1595.3,1101.9 1596.6,1102.0 1597.9,1103.0 1599.2,1103.4 1600.5,1104.1 1601.8,1099.7 1603.1,1106.1 1604.4,1104.3 1605.7,1102.9 1607.0,1103.9 1608.3,1104.3 1609.6,1105.2 1610.9,1104.0 1612.2,1104.8 1613.5,1104.6 1614.8,1105.3 1616.1,1107.5 1617.4,1105.2 1618.7,1104.9 1620.0,1104.1 1621.3,1104.9 1622.6,1101.4 1623.9,1105.2 1625.2,1104.3 1626.5,1103.5 1627.8,1105.1 1629.1,1108.4 1630.4,1103.8 1631.7,1107.7"/>
</g>

<!-- reference dotted lines -->
<g id="reflines" fill="none" stroke="#ff0000" stroke-width="4" stroke-linecap="round" stroke-dasharray="3 13.9">
<line x1="306.8" y1="151" x2="306.4" y2="1086"/>
<line x1="716" y1="100" x2="712" y2="1119"/>
<line x1="820" y1="103" x2="811.3" y2="1105"/>
<line x1="1332" y1="88" x2="1332" y2="1124"/>
</g>

<!-- axes -->
<g id="axes" fill="#000" shape-rendering="crispEdges">
<rect x="141.0" y="50.0" width="5.0" height="330.0"/>
<rect x="141.0" y="451.5" width="5.0" height="329.5"/>
<rect x="141.0" y="853.0" width="5.0" height="330.0"/>
<rect x="130.0" y="1178.0" width="1505.3" height="5.0"/>
<rect x="192.0" y="1183.0" width="6.0" height="11.0"/>
<rect x="323.0" y="1183.0" width="6.0" height="22.0"/>
<rect x="454.0" y="1183.0" width="6.0" height="11.0"/>
<rect x="584.0" y="1183.0" width="6.0" height="22.0"/>
<rect x="715.0" y="1183.0" width="6.0" height="11.0"/>
<rect x="846.0" y="1183.0" width="6.0" height="22.0"/>
<rect x="976.0" y="1183.0" width="6.0" height="11.0"/>
<rect x="1107.0" y="1183.0" width="6.0" height="22.0"/>
<rect x="1238.0" y="1183.0" width="6.0" height="11.0"/>
<rect x="1368.0" y="1183.0" width="6.0" height="22.0"/>
<rect x="1499.0" y="1183.0" width="6.0" height="11.0"/>
<rect x="1630.0" y="1183.0" width="6.0" height="22.0"/>
</g>
<g id="yticks" stroke="#000" stroke-width="6" stroke-linecap="round" fill="none">
<line x1="132.8" y1="856.0" x2="142" y2="856.0"/>
<line x1="121.9" y1="910.1" x2="142" y2="910.1"/>
<line x1="132.8" y1="964.2" x2="142" y2="964.2"/>
<line x1="121.9" y1="1018.3" x2="142" y2="1018.3"/>
<line x1="132.8" y1="1072.4" x2="142" y2="1072.4"/>
<line x1="121.9" y1="1126.5" x2="142" y2="1126.5"/>
</g>

<!-- tick labels -->
<g id="xticklabels" class="sans" fill="#000">
<text transform="translate(301.0,1252.7) scale(1,1.015)" font-size="45">10</text>
<text transform="translate(562.3,1252.7) scale(1,1.015)" font-size="45">20</text>
<text transform="translate(823.6,1252.7) scale(1,1.015)" font-size="45">30</text>
<text transform="translate(1084.9,1252.7) scale(1,1.015)" font-size="45">40</text>
<text transform="translate(1346.2,1252.7) scale(1,1.015)" font-size="45">50</text>
<text transform="translate(1607.5,1252.7) scale(1,1.015)" font-size="45">60</text>
</g>

<!-- annotations -->
<g id="annotations" class="sans" fill="#000">
<text transform="translate(255.8,112.5) scale(1.001,1.022)" font-size="48.7">020</text>
<text transform="translate(669.6,65.8) scale(1.000,1.011)" font-size="55.5">110</text>
<text transform="translate(789.0,80.0) scale(1.000,1.016)" font-size="55.5">130</text>
<text transform="translate(1306.0,66.8) scale(1.018,1.019)" font-size="55.5">200</text>
<text transform="translate(1575.9,104.8) scale(1.120,0.984)" font-size="55.5">c</text>
<text transform="translate(1586.1,486.7) scale(1.021,0.988)" font-size="55.5">b</text>
<text transform="translate(1591.4,932.5) scale(0.967,0.997)" font-size="55.5">a</text>
<text transform="translate(839.2,245.8) scale(0.960,1.062)" font-size="55.5" fill="#0000ff">Qa</text>
<text transform="translate(729.5,377.5) scale(0.978,1.026)" font-size="55.5" fill="#ff0000">Pa</text>
<text transform="translate(201.1,425.1) scale(1.029,1.056)" font-size="55.5" fill="#0000ff">P</text>
<text transform="translate(211.3,651.3) scale(0.979,1.065)" font-size="55.5" fill="#ff0000">Q</text>
<text transform="translate(279.7,883.1) scale(0.988,1.054)" font-size="55.5">TNT</text>
<text transform="translate(205.1,968.0) scale(1.075,1.038)" font-size="55.5" fill="#a0a0a0">LT</text>
</g>

<!-- axis titles -->
<text class="serif" font-size="70" x="762.8" y="1377.5">2 Theta</text>
<text class="serif" font-size="71.0" transform="translate(74.2,922.2) rotate(-90)">Intensity, a.u.</text>
</svg>
</body>
</html>
